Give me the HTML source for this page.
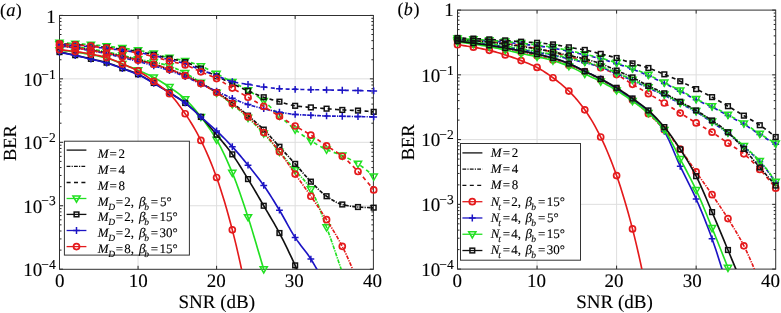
<!DOCTYPE html>
<html><head><meta charset="utf-8"><style>
html,body{margin:0;padding:0;background:#fff;}
body{width:781px;height:313px;overflow:hidden;font-family:"Liberation Serif",serif;}
svg{display:block;will-change:transform;filter:blur(0.3px);}
text{stroke:#000;stroke-width:0.12px;text-rendering:geometricPrecision;}
.tg{will-change:transform;}
</style></head><body>
<svg width="781" height="313" viewBox="0 0 781 313">
<rect width="781" height="313" fill="#fff"/>
<clipPath id="ca"><rect x="59.50" y="15.50" width="313.90" height="253.80"/></clipPath>
<line x1="138.05" y1="15.50" x2="138.05" y2="269.30" stroke="#dedede" stroke-width="1"/>
<line x1="216.60" y1="15.50" x2="216.60" y2="269.30" stroke="#dedede" stroke-width="1"/>
<line x1="295.15" y1="15.50" x2="295.15" y2="269.30" stroke="#dedede" stroke-width="1"/>
<line x1="59.50" y1="78.85" x2="373.40" y2="78.85" stroke="#dedede" stroke-width="1"/>
<line x1="59.50" y1="142.30" x2="373.40" y2="142.30" stroke="#dedede" stroke-width="1"/>
<line x1="59.50" y1="205.75" x2="373.40" y2="205.75" stroke="#dedede" stroke-width="1"/>
<path d="M138.05,269.30 v-3.5 M138.05,15.50 v3.5 M216.60,269.30 v-3.5 M216.60,15.50 v3.5 M295.15,269.30 v-3.5 M295.15,15.50 v3.5 M59.50,15.40 h3.5 M373.40,15.40 h-3.5 M59.50,59.75 h2 M373.40,59.75 h-2 M59.50,48.58 h2 M373.40,48.58 h-2 M59.50,40.65 h2 M373.40,40.65 h-2 M59.50,34.50 h2 M373.40,34.50 h-2 M59.50,29.48 h2 M373.40,29.48 h-2 M59.50,25.23 h2 M373.40,25.23 h-2 M59.50,21.55 h2 M373.40,21.55 h-2 M59.50,18.30 h2 M373.40,18.30 h-2 M59.50,78.85 h3.5 M373.40,78.85 h-3.5 M59.50,123.20 h2 M373.40,123.20 h-2 M59.50,112.03 h2 M373.40,112.03 h-2 M59.50,104.10 h2 M373.40,104.10 h-2 M59.50,97.95 h2 M373.40,97.95 h-2 M59.50,92.93 h2 M373.40,92.93 h-2 M59.50,88.68 h2 M373.40,88.68 h-2 M59.50,85.00 h2 M373.40,85.00 h-2 M59.50,81.75 h2 M373.40,81.75 h-2 M59.50,142.30 h3.5 M373.40,142.30 h-3.5 M59.50,186.65 h2 M373.40,186.65 h-2 M59.50,175.48 h2 M373.40,175.48 h-2 M59.50,167.55 h2 M373.40,167.55 h-2 M59.50,161.40 h2 M373.40,161.40 h-2 M59.50,156.38 h2 M373.40,156.38 h-2 M59.50,152.13 h2 M373.40,152.13 h-2 M59.50,148.45 h2 M373.40,148.45 h-2 M59.50,145.20 h2 M373.40,145.20 h-2 M59.50,205.75 h3.5 M373.40,205.75 h-3.5 M59.50,250.10 h2 M373.40,250.10 h-2 M59.50,238.93 h2 M373.40,238.93 h-2 M59.50,231.00 h2 M373.40,231.00 h-2 M59.50,224.85 h2 M373.40,224.85 h-2 M59.50,219.83 h2 M373.40,219.83 h-2 M59.50,215.58 h2 M373.40,215.58 h-2 M59.50,211.90 h2 M373.40,211.90 h-2 M59.50,208.65 h2 M373.40,208.65 h-2 M59.50,269.20 h3.5 M373.40,269.20 h-3.5" stroke="#262626" stroke-width="1" fill="none"/>
<rect x="59.50" y="15.50" width="313.90" height="253.80" fill="none" stroke="#303030" stroke-width="1"/>
<g clip-path="url(#ca)">
<path d="M59.50,50.17 L61.46,50.37 L63.43,50.59 L65.39,50.81 L67.36,51.05 L69.32,51.29 L71.28,51.55 L73.25,51.81 L75.21,52.07 L77.17,52.35 L79.14,52.64 L81.10,52.94 L83.06,53.25 L85.03,53.57 L86.99,53.90 L88.96,54.25 L90.92,54.61 L92.88,54.98 L94.85,55.37 L96.81,55.76 L98.78,56.18 L100.74,56.62 L102.70,57.08 L104.67,57.57 L106.63,58.10 L108.59,58.69 L110.56,59.34 L112.52,60.05 L114.48,60.81 L116.45,61.59 L118.41,62.38 L120.38,63.17 L122.34,63.94 L124.30,64.70 L126.27,65.47 L128.23,66.25 L130.19,67.03 L132.16,67.82 L134.12,68.63 L136.09,69.45 L138.05,70.28 L140.01,71.12 L141.98,71.97 L143.94,72.82 L145.91,73.68 L147.87,74.57 L149.83,75.49 L151.80,76.45 L153.76,77.45 L155.72,78.51 L157.69,79.62 L159.65,80.77 L161.62,81.96 L163.58,83.20 L165.54,84.47 L167.51,85.77 L169.47,87.10 L171.43,88.45 L173.40,89.82 L175.36,91.22 L177.32,92.67 L179.29,94.18 L181.25,95.75 L183.22,97.41 L185.18,99.15 L187.14,101.02 L189.11,103.01 L191.07,105.12 L193.03,107.33 L195.00,109.63 L196.96,112.01 L198.93,114.44 L200.89,116.92 L202.85,119.45 L204.82,122.03 L206.78,124.70 L208.75,127.46 L210.71,130.34 L212.67,133.33 L214.64,136.47 L216.60,139.76 L218.56,143.25 L220.53,146.94 L222.49,150.83 L224.46,154.90 L226.42,159.14 L228.38,163.54 L230.35,168.08 L232.31,172.76 L234.27,177.63 L236.24,182.77 L238.20,188.14 L240.17,193.71 L242.13,199.43 L244.09,205.27 L246.06,211.19 L248.02,217.17 L249.98,223.29 L251.95,229.63 L253.91,236.14 L255.88,242.76 L257.84,249.43 L259.80,256.10 L261.77,262.71 L263.73,269.20 L265.69,275.59 L267.66,281.95 L269.62,288.28" fill="none" stroke="#22e022" stroke-width="1.65" stroke-linejoin="round"/>
</g>
<path d="M55.90,47.67 L63.10,47.67 L59.50,53.87Z" fill="none" stroke="#22e022" stroke-width="1.50"/>
<path d="M71.61,49.57 L78.81,49.57 L75.21,55.77Z" fill="none" stroke="#22e022" stroke-width="1.50"/>
<path d="M87.32,52.11 L94.52,52.11 L90.92,58.31Z" fill="none" stroke="#22e022" stroke-width="1.50"/>
<path d="M103.03,55.60 L110.23,55.60 L106.63,61.80Z" fill="none" stroke="#22e022" stroke-width="1.50"/>
<path d="M118.74,61.44 L125.94,61.44 L122.34,67.64Z" fill="none" stroke="#22e022" stroke-width="1.50"/>
<path d="M134.45,67.78 L141.65,67.78 L138.05,73.98Z" fill="none" stroke="#22e022" stroke-width="1.50"/>
<path d="M150.16,74.95 L157.36,74.95 L153.76,81.15Z" fill="none" stroke="#22e022" stroke-width="1.50"/>
<path d="M165.87,84.60 L173.07,84.60 L169.47,90.80Z" fill="none" stroke="#22e022" stroke-width="1.50"/>
<path d="M181.58,96.65 L188.78,96.65 L185.18,102.85Z" fill="none" stroke="#22e022" stroke-width="1.50"/>
<path d="M197.29,114.42 L204.49,114.42 L200.89,120.62Z" fill="none" stroke="#22e022" stroke-width="1.50"/>
<path d="M213.00,137.26 L220.20,137.26 L216.60,143.46Z" fill="none" stroke="#22e022" stroke-width="1.50"/>
<path d="M228.71,170.26 L235.91,170.26 L232.31,176.46Z" fill="none" stroke="#22e022" stroke-width="1.50"/>
<path d="M244.42,214.67 L251.62,214.67 L248.02,220.87Z" fill="none" stroke="#22e022" stroke-width="1.50"/>
<path d="M260.13,266.70 L267.33,266.70 L263.73,272.90Z" fill="none" stroke="#22e022" stroke-width="1.50"/>
<g clip-path="url(#ca)">
<path d="M59.50,44.27 L61.46,44.53 L63.43,44.80 L65.39,45.07 L67.36,45.34 L69.32,45.62 L71.28,45.91 L73.25,46.20 L75.21,46.49 L77.17,46.79 L79.14,47.09 L81.10,47.40 L83.06,47.72 L85.03,48.04 L86.99,48.37 L88.96,48.69 L90.92,49.03 L92.88,49.37 L94.85,49.71 L96.81,50.05 L98.78,50.40 L100.74,50.76 L102.70,51.12 L104.67,51.50 L106.63,51.88 L108.59,52.28 L110.56,52.70 L112.52,53.13 L114.48,53.57 L116.45,54.01 L118.41,54.46 L120.38,54.92 L122.34,55.37 L124.30,55.84 L126.27,56.33 L128.23,56.82 L130.19,57.32 L132.16,57.82 L134.12,58.30 L136.09,58.75 L138.05,59.18 L140.01,59.57 L141.98,59.93 L143.94,60.27 L145.91,60.59 L147.87,60.92 L149.83,61.27 L151.80,61.63 L153.76,62.04 L155.72,62.47 L157.69,62.91 L159.65,63.38 L161.62,63.88 L163.58,64.40 L165.54,64.95 L167.51,65.54 L169.47,66.16 L171.43,66.84 L173.40,67.58 L175.36,68.38 L177.32,69.23 L179.29,70.12 L181.25,71.06 L183.22,72.02 L185.18,73.01 L187.14,74.06 L189.11,75.18 L191.07,76.37 L193.03,77.60 L195.00,78.86 L196.96,80.13 L198.93,81.41 L200.89,82.66 L202.85,83.89 L204.82,85.13 L206.78,86.37 L208.75,87.63 L210.71,88.89 L212.67,90.17 L214.64,91.48 L216.60,92.81 L218.56,94.16 L220.53,95.52 L222.49,96.90 L224.46,98.31 L226.42,99.74 L228.38,101.20 L230.35,102.70 L232.31,104.23 L234.27,105.81 L236.24,107.43 L238.20,109.09 L240.17,110.79 L242.13,112.52 L244.09,114.28 L246.06,116.06 L248.02,117.87 L249.98,119.70 L251.95,121.55 L253.91,123.44 L255.88,125.35 L257.84,127.31 L259.80,129.30 L261.77,131.33 L263.73,133.42 L265.69,135.57 L267.66,137.80 L269.62,140.09 L271.59,142.42 L273.55,144.78 L275.51,147.14 L277.48,149.50 L279.44,151.82 L281.40,154.11 L283.37,156.40 L285.33,158.69 L287.30,160.98 L289.26,163.27 L291.22,165.57 L293.19,167.89 L295.15,170.22 L297.11,172.48 L299.08,174.63 L301.04,176.75 L303.00,178.90 L304.97,181.16 L306.93,183.59 L308.90,186.26 L310.86,189.25 L312.82,192.75 L314.79,196.84 L316.75,201.39 L318.72,206.30 L320.68,211.46 L322.64,216.76 L324.61,222.08 L326.57,227.32 L328.53,232.60 L330.50,238.07 L332.46,243.69 L334.43,249.42 L336.39,255.20 L338.35,260.98 L340.32,266.72 L342.28,272.37 L344.24,277.95 L346.21,283.51 L348.17,289.05" fill="none" stroke="#22e022" stroke-width="1.65" stroke-dasharray="3.8,1.2,1.2,1.2" stroke-dashoffset="0.0" stroke-linejoin="round"/>
</g>
<path d="M55.90,41.77 L63.10,41.77 L59.50,47.97Z" fill="none" stroke="#22e022" stroke-width="1.50"/>
<path d="M71.61,43.99 L78.81,43.99 L75.21,50.19Z" fill="none" stroke="#22e022" stroke-width="1.50"/>
<path d="M87.32,46.53 L94.52,46.53 L90.92,52.73Z" fill="none" stroke="#22e022" stroke-width="1.50"/>
<path d="M103.03,49.38 L110.23,49.38 L106.63,55.58Z" fill="none" stroke="#22e022" stroke-width="1.50"/>
<path d="M118.74,52.87 L125.94,52.87 L122.34,59.07Z" fill="none" stroke="#22e022" stroke-width="1.50"/>
<path d="M134.45,56.68 L141.65,56.68 L138.05,62.88Z" fill="none" stroke="#22e022" stroke-width="1.50"/>
<path d="M150.16,59.54 L157.36,59.54 L153.76,65.74Z" fill="none" stroke="#22e022" stroke-width="1.50"/>
<path d="M165.87,63.66 L173.07,63.66 L169.47,69.86Z" fill="none" stroke="#22e022" stroke-width="1.50"/>
<path d="M181.58,70.51 L188.78,70.51 L185.18,76.71Z" fill="none" stroke="#22e022" stroke-width="1.50"/>
<path d="M197.29,80.16 L204.49,80.16 L200.89,86.36Z" fill="none" stroke="#22e022" stroke-width="1.50"/>
<path d="M213.00,90.31 L220.20,90.31 L216.60,96.51Z" fill="none" stroke="#22e022" stroke-width="1.50"/>
<path d="M228.71,101.73 L235.91,101.73 L232.31,107.93Z" fill="none" stroke="#22e022" stroke-width="1.50"/>
<path d="M244.42,115.37 L251.62,115.37 L248.02,121.57Z" fill="none" stroke="#22e022" stroke-width="1.50"/>
<path d="M260.13,130.92 L267.33,130.92 L263.73,137.12Z" fill="none" stroke="#22e022" stroke-width="1.50"/>
<path d="M275.84,149.32 L283.04,149.32 L279.44,155.52Z" fill="none" stroke="#22e022" stroke-width="1.50"/>
<path d="M291.55,167.72 L298.75,167.72 L295.15,173.92Z" fill="none" stroke="#22e022" stroke-width="1.50"/>
<path d="M307.26,186.75 L314.46,186.75 L310.86,192.95Z" fill="none" stroke="#22e022" stroke-width="1.50"/>
<path d="M322.97,224.82 L330.17,224.82 L326.57,231.02Z" fill="none" stroke="#22e022" stroke-width="1.50"/>
<g clip-path="url(#ca)">
<path d="M59.50,42.68 L61.46,42.80 L63.43,42.91 L65.39,43.03 L67.36,43.14 L69.32,43.26 L71.28,43.39 L73.25,43.51 L75.21,43.64 L77.17,43.76 L79.14,43.89 L81.10,44.02 L83.06,44.15 L85.03,44.28 L86.99,44.42 L88.96,44.56 L90.92,44.71 L92.88,44.87 L94.85,45.04 L96.81,45.21 L98.78,45.39 L100.74,45.58 L102.70,45.77 L104.67,45.97 L106.63,46.17 L108.59,46.39 L110.56,46.61 L112.52,46.84 L114.48,47.08 L116.45,47.32 L118.41,47.57 L120.38,47.82 L122.34,48.08 L124.30,48.33 L126.27,48.59 L128.23,48.85 L130.19,49.12 L132.16,49.39 L134.12,49.68 L136.09,49.98 L138.05,50.30 L140.01,50.63 L141.98,50.99 L143.94,51.36 L145.91,51.75 L147.87,52.16 L149.83,52.58 L151.80,53.02 L153.76,53.47 L155.72,53.96 L157.69,54.49 L159.65,55.05 L161.62,55.63 L163.58,56.21 L165.54,56.77 L167.51,57.30 L169.47,57.78 L171.43,58.21 L173.40,58.60 L175.36,58.95 L177.32,59.30 L179.29,59.65 L181.25,60.03 L183.22,60.44 L185.18,60.89 L187.14,61.41 L189.11,61.97 L191.07,62.59 L193.03,63.24 L195.00,63.93 L196.96,64.64 L198.93,65.39 L200.89,66.16 L202.85,66.97 L204.82,67.85 L206.78,68.79 L208.75,69.76 L210.71,70.75 L212.67,71.76 L214.64,72.77 L216.60,73.77 L218.56,74.77 L220.53,75.79 L222.49,76.82 L224.46,77.86 L226.42,78.90 L228.38,79.94 L230.35,80.99 L232.31,82.02 L234.27,83.04 L236.24,84.03 L238.20,85.02 L240.17,86.01 L242.13,87.02 L244.09,88.05 L246.06,89.13 L248.02,90.27 L249.98,91.46 L251.95,92.69 L253.91,93.96 L255.88,95.28 L257.84,96.65 L259.80,98.07 L261.77,99.53 L263.73,101.06 L265.69,102.68 L267.66,104.41 L269.62,106.24 L271.59,108.12 L273.55,110.03 L275.51,111.95 L277.48,113.83 L279.44,115.65 L281.40,117.45 L283.37,119.26 L285.33,121.07 L287.30,122.87 L289.26,124.64 L291.22,126.36 L293.19,128.02 L295.15,129.61 L297.11,131.14 L299.08,132.62 L301.04,134.07 L303.00,135.47 L304.97,136.84 L306.93,138.17 L308.90,139.46 L310.86,140.71 L312.82,141.94 L314.79,143.15 L316.75,144.34 L318.72,145.49 L320.68,146.60 L322.64,147.66 L324.61,148.66 L326.57,149.60 L328.53,150.45 L330.50,151.22 L332.46,151.94 L334.43,152.64 L336.39,153.33 L338.35,154.04 L340.32,154.80 L342.28,155.62 L344.24,156.51 L346.21,157.42 L348.17,158.38 L350.13,159.37 L352.10,160.41 L354.06,161.50 L356.03,162.66 L357.99,163.87 L359.95,165.17 L361.92,166.56 L363.88,168.04 L365.85,169.60 L367.81,171.24 L369.77,172.95 L371.74,174.73 L373.70,176.56" fill="none" stroke="#22e022" stroke-width="1.65" stroke-dasharray="4,3.4" stroke-dashoffset="0.0" stroke-linejoin="round"/>
</g>
<path d="M55.90,40.18 L63.10,40.18 L59.50,46.38Z" fill="none" stroke="#22e022" stroke-width="1.50"/>
<path d="M71.61,41.14 L78.81,41.14 L75.21,47.34Z" fill="none" stroke="#22e022" stroke-width="1.50"/>
<path d="M87.32,42.21 L94.52,42.21 L90.92,48.41Z" fill="none" stroke="#22e022" stroke-width="1.50"/>
<path d="M103.03,43.67 L110.23,43.67 L106.63,49.87Z" fill="none" stroke="#22e022" stroke-width="1.50"/>
<path d="M118.74,45.58 L125.94,45.58 L122.34,51.78Z" fill="none" stroke="#22e022" stroke-width="1.50"/>
<path d="M134.45,47.80 L141.65,47.80 L138.05,54.00Z" fill="none" stroke="#22e022" stroke-width="1.50"/>
<path d="M150.16,50.97 L157.36,50.97 L153.76,57.17Z" fill="none" stroke="#22e022" stroke-width="1.50"/>
<path d="M165.87,55.28 L173.07,55.28 L169.47,61.48Z" fill="none" stroke="#22e022" stroke-width="1.50"/>
<path d="M181.58,58.39 L188.78,58.39 L185.18,64.59Z" fill="none" stroke="#22e022" stroke-width="1.50"/>
<path d="M197.29,63.66 L204.49,63.66 L200.89,69.86Z" fill="none" stroke="#22e022" stroke-width="1.50"/>
<path d="M213.00,71.27 L220.20,71.27 L216.60,77.47Z" fill="none" stroke="#22e022" stroke-width="1.50"/>
<path d="M228.71,79.52 L235.91,79.52 L232.31,85.72Z" fill="none" stroke="#22e022" stroke-width="1.50"/>
<path d="M244.42,87.77 L251.62,87.77 L248.02,93.97Z" fill="none" stroke="#22e022" stroke-width="1.50"/>
<path d="M260.13,98.56 L267.33,98.56 L263.73,104.76Z" fill="none" stroke="#22e022" stroke-width="1.50"/>
<path d="M275.84,113.15 L283.04,113.15 L279.44,119.35Z" fill="none" stroke="#22e022" stroke-width="1.50"/>
<path d="M291.55,127.11 L298.75,127.11 L295.15,133.31Z" fill="none" stroke="#22e022" stroke-width="1.50"/>
<path d="M307.26,138.21 L314.46,138.21 L310.86,144.41Z" fill="none" stroke="#22e022" stroke-width="1.50"/>
<path d="M322.97,147.10 L330.17,147.10 L326.57,153.30Z" fill="none" stroke="#22e022" stroke-width="1.50"/>
<path d="M338.68,153.12 L345.88,153.12 L342.28,159.32Z" fill="none" stroke="#22e022" stroke-width="1.50"/>
<path d="M354.39,161.37 L361.59,161.37 L357.99,167.57Z" fill="none" stroke="#22e022" stroke-width="1.50"/>
<path d="M370.10,174.06 L377.30,174.06 L373.70,180.26Z" fill="none" stroke="#22e022" stroke-width="1.50"/>
<g clip-path="url(#ca)">
<path d="M59.50,52.07 L61.46,52.43 L63.43,52.80 L65.39,53.18 L67.36,53.56 L69.32,53.95 L71.28,54.36 L73.25,54.77 L75.21,55.18 L77.17,55.61 L79.14,56.06 L81.10,56.51 L83.06,56.98 L85.03,57.45 L86.99,57.92 L88.96,58.39 L90.92,58.86 L92.88,59.32 L94.85,59.77 L96.81,60.22 L98.78,60.67 L100.74,61.13 L102.70,61.61 L104.67,62.12 L106.63,62.67 L108.59,63.26 L110.56,63.91 L112.52,64.59 L114.48,65.30 L116.45,66.04 L118.41,66.78 L120.38,67.52 L122.34,68.25 L124.30,68.97 L126.27,69.68 L128.23,70.38 L130.19,71.10 L132.16,71.84 L134.12,72.61 L136.09,73.42 L138.05,74.28 L140.01,75.21 L141.98,76.22 L143.94,77.28 L145.91,78.38 L147.87,79.52 L149.83,80.67 L151.80,81.83 L153.76,82.97 L155.72,84.12 L157.69,85.27 L159.65,86.44 L161.62,87.62 L163.58,88.82 L165.54,90.03 L167.51,91.25 L169.47,92.49 L171.43,93.73 L173.40,94.97 L175.36,96.21 L177.32,97.48 L179.29,98.77 L181.25,100.11 L183.22,101.50 L185.18,102.96 L187.14,104.49 L189.11,106.09 L191.07,107.76 L193.03,109.48 L195.00,111.26 L196.96,113.10 L198.93,114.99 L200.89,116.92 L202.85,118.92 L204.82,121.02 L206.78,123.19 L208.75,125.42 L210.71,127.70 L212.67,130.02 L214.64,132.35 L216.60,134.69 L218.56,137.02 L220.53,139.36 L222.49,141.72 L224.46,144.11 L226.42,146.56 L228.38,149.08 L230.35,151.67 L232.31,154.36 L234.27,157.17 L236.24,160.10 L238.20,163.14 L240.17,166.26 L242.13,169.44 L244.09,172.65 L246.06,175.88 L248.02,179.10 L249.98,182.33 L251.95,185.61 L253.91,188.92 L255.88,192.26 L257.84,195.62 L259.80,199.00 L261.77,202.38 L263.73,205.75 L265.69,209.10 L267.66,212.42 L269.62,215.73 L271.59,219.06 L273.55,222.43 L275.51,225.87 L277.48,229.40 L279.44,233.03 L281.40,236.79 L283.37,240.67 L285.33,244.63 L287.30,248.68 L289.26,252.79 L291.22,256.96 L293.19,261.17 L295.15,265.39 L297.11,269.65 L299.08,273.97 L301.04,278.33 L303.00,282.75 L304.97,287.22 L306.93,291.74" fill="none" stroke="#111111" stroke-width="1.65" stroke-linejoin="round"/>
</g>
<rect x="57.15" y="49.72" width="4.7" height="4.7" fill="none" stroke="#111111" stroke-width="1.50"/>
<rect x="72.86" y="52.83" width="4.7" height="4.7" fill="none" stroke="#111111" stroke-width="1.50"/>
<rect x="88.57" y="56.51" width="4.7" height="4.7" fill="none" stroke="#111111" stroke-width="1.50"/>
<rect x="104.28" y="60.32" width="4.7" height="4.7" fill="none" stroke="#111111" stroke-width="1.50"/>
<rect x="119.99" y="65.90" width="4.7" height="4.7" fill="none" stroke="#111111" stroke-width="1.50"/>
<rect x="135.70" y="71.93" width="4.7" height="4.7" fill="none" stroke="#111111" stroke-width="1.50"/>
<rect x="151.41" y="80.62" width="4.7" height="4.7" fill="none" stroke="#111111" stroke-width="1.50"/>
<rect x="167.12" y="90.14" width="4.7" height="4.7" fill="none" stroke="#111111" stroke-width="1.50"/>
<rect x="182.83" y="100.61" width="4.7" height="4.7" fill="none" stroke="#111111" stroke-width="1.50"/>
<rect x="198.54" y="114.57" width="4.7" height="4.7" fill="none" stroke="#111111" stroke-width="1.50"/>
<rect x="214.25" y="132.34" width="4.7" height="4.7" fill="none" stroke="#111111" stroke-width="1.50"/>
<rect x="229.96" y="152.01" width="4.7" height="4.7" fill="none" stroke="#111111" stroke-width="1.50"/>
<rect x="245.67" y="176.75" width="4.7" height="4.7" fill="none" stroke="#111111" stroke-width="1.50"/>
<rect x="261.38" y="203.40" width="4.7" height="4.7" fill="none" stroke="#111111" stroke-width="1.50"/>
<rect x="277.09" y="230.68" width="4.7" height="4.7" fill="none" stroke="#111111" stroke-width="1.50"/>
<rect x="292.80" y="263.04" width="4.7" height="4.7" fill="none" stroke="#111111" stroke-width="1.50"/>
<g clip-path="url(#ca)">
<path d="M59.50,45.22 L61.46,45.48 L63.43,45.75 L65.39,46.02 L67.36,46.29 L69.32,46.57 L71.28,46.86 L73.25,47.15 L75.21,47.44 L77.17,47.74 L79.14,48.05 L81.10,48.36 L83.06,48.67 L85.03,48.99 L86.99,49.32 L88.96,49.65 L90.92,49.98 L92.88,50.32 L94.85,50.66 L96.81,51.00 L98.78,51.35 L100.74,51.71 L102.70,52.07 L104.67,52.45 L106.63,52.84 L108.59,53.24 L110.56,53.66 L112.52,54.09 L114.48,54.54 L116.45,54.99 L118.41,55.44 L120.38,55.88 L122.34,56.33 L124.30,56.76 L126.27,57.18 L128.23,57.60 L130.19,58.02 L132.16,58.45 L134.12,58.88 L136.09,59.34 L138.05,59.81 L140.01,60.32 L141.98,60.84 L143.94,61.38 L145.91,61.93 L147.87,62.50 L149.83,63.08 L151.80,63.67 L153.76,64.26 L155.72,64.85 L157.69,65.46 L159.65,66.07 L161.62,66.70 L163.58,67.34 L165.54,67.99 L167.51,68.65 L169.47,69.33 L171.43,70.03 L173.40,70.73 L175.36,71.44 L177.32,72.18 L179.29,72.93 L181.25,73.71 L183.22,74.52 L185.18,75.36 L187.14,76.24 L189.11,77.17 L191.07,78.14 L193.03,79.13 L195.00,80.16 L196.96,81.19 L198.93,82.24 L200.89,83.29 L202.85,84.34 L204.82,85.40 L206.78,86.47 L208.75,87.56 L210.71,88.67 L212.67,89.81 L214.64,90.97 L216.60,92.17 L218.56,93.41 L220.53,94.68 L222.49,95.99 L224.46,97.33 L226.42,98.70 L228.38,100.09 L230.35,101.51 L232.31,102.96 L234.27,104.44 L236.24,105.96 L238.20,107.52 L240.17,109.10 L242.13,110.71 L244.09,112.35 L246.06,113.99 L248.02,115.65 L249.98,117.31 L251.95,118.98 L253.91,120.66 L255.88,122.37 L257.84,124.11 L259.80,125.89 L261.77,127.72 L263.73,129.61 L265.69,131.58 L267.66,133.65 L269.62,135.78 L271.59,137.96 L273.55,140.16 L275.51,142.38 L277.48,144.58 L279.44,146.74 L281.40,148.88 L283.37,151.01 L285.33,153.14 L287.30,155.27 L289.26,157.40 L291.22,159.55 L293.19,161.70 L295.15,163.87 L297.11,166.09 L299.08,168.35 L301.04,170.64 L303.00,172.93 L304.97,175.20 L306.93,177.43 L308.90,179.58 L310.86,181.64 L312.82,183.66 L314.79,185.68 L316.75,187.68 L318.72,189.62 L320.68,191.48 L322.64,193.22 L324.61,194.82 L326.57,196.23 L328.53,197.54 L330.50,198.82 L332.46,200.05 L334.43,201.19 L336.39,202.23 L338.35,203.14 L340.32,203.90 L342.28,204.48 L344.24,204.95 L346.21,205.38 L348.17,205.76 L350.13,206.11 L352.10,206.41 L354.06,206.66 L356.03,206.87 L357.99,207.02 L359.95,207.14 L361.92,207.26 L363.88,207.37 L365.85,207.46 L367.81,207.54 L369.77,207.60 L371.74,207.64 L373.70,207.65" fill="none" stroke="#111111" stroke-width="1.65" stroke-dasharray="3.8,1.2,1.2,1.2" stroke-dashoffset="2.6" stroke-linejoin="round"/>
</g>
<rect x="57.15" y="42.87" width="4.7" height="4.7" fill="none" stroke="#111111" stroke-width="1.50"/>
<rect x="72.86" y="45.09" width="4.7" height="4.7" fill="none" stroke="#111111" stroke-width="1.50"/>
<rect x="88.57" y="47.63" width="4.7" height="4.7" fill="none" stroke="#111111" stroke-width="1.50"/>
<rect x="104.28" y="50.49" width="4.7" height="4.7" fill="none" stroke="#111111" stroke-width="1.50"/>
<rect x="119.99" y="53.98" width="4.7" height="4.7" fill="none" stroke="#111111" stroke-width="1.50"/>
<rect x="135.70" y="57.46" width="4.7" height="4.7" fill="none" stroke="#111111" stroke-width="1.50"/>
<rect x="151.41" y="61.91" width="4.7" height="4.7" fill="none" stroke="#111111" stroke-width="1.50"/>
<rect x="167.12" y="66.98" width="4.7" height="4.7" fill="none" stroke="#111111" stroke-width="1.50"/>
<rect x="182.83" y="73.01" width="4.7" height="4.7" fill="none" stroke="#111111" stroke-width="1.50"/>
<rect x="198.54" y="80.94" width="4.7" height="4.7" fill="none" stroke="#111111" stroke-width="1.50"/>
<rect x="214.25" y="89.82" width="4.7" height="4.7" fill="none" stroke="#111111" stroke-width="1.50"/>
<rect x="229.96" y="100.61" width="4.7" height="4.7" fill="none" stroke="#111111" stroke-width="1.50"/>
<rect x="245.67" y="113.30" width="4.7" height="4.7" fill="none" stroke="#111111" stroke-width="1.50"/>
<rect x="261.38" y="127.26" width="4.7" height="4.7" fill="none" stroke="#111111" stroke-width="1.50"/>
<rect x="277.09" y="144.39" width="4.7" height="4.7" fill="none" stroke="#111111" stroke-width="1.50"/>
<rect x="292.80" y="161.52" width="4.7" height="4.7" fill="none" stroke="#111111" stroke-width="1.50"/>
<rect x="308.51" y="179.29" width="4.7" height="4.7" fill="none" stroke="#111111" stroke-width="1.50"/>
<rect x="324.22" y="193.88" width="4.7" height="4.7" fill="none" stroke="#111111" stroke-width="1.50"/>
<rect x="339.93" y="202.13" width="4.7" height="4.7" fill="none" stroke="#111111" stroke-width="1.50"/>
<rect x="355.64" y="204.67" width="4.7" height="4.7" fill="none" stroke="#111111" stroke-width="1.50"/>
<rect x="371.35" y="205.30" width="4.7" height="4.7" fill="none" stroke="#111111" stroke-width="1.50"/>
<g clip-path="url(#ca)">
<path d="M59.50,43.64 L61.46,43.74 L63.43,43.84 L65.39,43.96 L67.36,44.07 L69.32,44.20 L71.28,44.32 L73.25,44.45 L75.21,44.59 L77.17,44.73 L79.14,44.87 L81.10,45.02 L83.06,45.18 L85.03,45.34 L86.99,45.51 L88.96,45.68 L90.92,45.86 L92.88,46.04 L94.85,46.22 L96.81,46.41 L98.78,46.61 L100.74,46.81 L102.70,47.02 L104.67,47.23 L106.63,47.44 L108.59,47.66 L110.56,47.89 L112.52,48.12 L114.48,48.35 L116.45,48.60 L118.41,48.84 L120.38,49.09 L122.34,49.35 L124.30,49.60 L126.27,49.86 L128.23,50.12 L130.19,50.39 L132.16,50.66 L134.12,50.95 L136.09,51.25 L138.05,51.57 L140.01,51.91 L141.98,52.27 L143.94,52.65 L145.91,53.05 L147.87,53.46 L149.83,53.88 L151.80,54.31 L153.76,54.74 L155.72,55.18 L157.69,55.65 L159.65,56.13 L161.62,56.62 L163.58,57.11 L165.54,57.60 L167.51,58.08 L169.47,58.55 L171.43,58.98 L173.40,59.39 L175.36,59.78 L177.32,60.18 L179.29,60.59 L181.25,61.02 L183.22,61.50 L185.18,62.04 L187.14,62.66 L189.11,63.36 L191.07,64.15 L193.03,64.99 L195.00,65.87 L196.96,66.77 L198.93,67.67 L200.89,68.57 L202.85,69.48 L204.82,70.43 L206.78,71.40 L208.75,72.39 L210.71,73.39 L212.67,74.38 L214.64,75.36 L216.60,76.31 L218.56,77.24 L220.53,78.17 L222.49,79.08 L224.46,79.99 L226.42,80.89 L228.38,81.79 L230.35,82.70 L232.31,83.61 L234.27,84.53 L236.24,85.46 L238.20,86.39 L240.17,87.32 L242.13,88.24 L244.09,89.15 L246.06,90.04 L248.02,90.91 L249.98,91.76 L251.95,92.61 L253.91,93.45 L255.88,94.27 L257.84,95.07 L259.80,95.84 L261.77,96.57 L263.73,97.25 L265.69,97.88 L267.66,98.48 L269.62,99.05 L271.59,99.59 L273.55,100.12 L275.51,100.64 L277.48,101.16 L279.44,101.69 L281.40,102.25 L283.37,102.83 L285.33,103.42 L287.30,104.00 L289.26,104.55 L291.22,105.05 L293.19,105.48 L295.15,105.82 L297.11,106.08 L299.08,106.32 L301.04,106.53 L303.00,106.72 L304.97,106.90 L306.93,107.06 L308.90,107.23 L310.86,107.40 L312.82,107.57 L314.79,107.74 L316.75,107.90 L318.72,108.05 L320.68,108.21 L322.64,108.36 L324.61,108.51 L326.57,108.67 L328.53,108.84 L330.50,109.01 L332.46,109.18 L334.43,109.36 L336.39,109.53 L338.35,109.68 L340.32,109.82 L342.28,109.94 L344.24,110.04 L346.21,110.12 L348.17,110.19 L350.13,110.26 L352.10,110.32 L354.06,110.40 L356.03,110.48 L357.99,110.58 L359.95,110.69 L361.92,110.82 L363.88,110.96 L365.85,111.12 L367.81,111.28 L369.77,111.46 L371.74,111.65 L373.70,111.84" fill="none" stroke="#111111" stroke-width="1.65" stroke-dasharray="4,3.4" stroke-dashoffset="2.6" stroke-linejoin="round"/>
</g>
<rect x="57.15" y="41.29" width="4.7" height="4.7" fill="none" stroke="#111111" stroke-width="1.50"/>
<rect x="72.86" y="42.24" width="4.7" height="4.7" fill="none" stroke="#111111" stroke-width="1.50"/>
<rect x="88.57" y="43.51" width="4.7" height="4.7" fill="none" stroke="#111111" stroke-width="1.50"/>
<rect x="104.28" y="45.09" width="4.7" height="4.7" fill="none" stroke="#111111" stroke-width="1.50"/>
<rect x="119.99" y="47.00" width="4.7" height="4.7" fill="none" stroke="#111111" stroke-width="1.50"/>
<rect x="135.70" y="49.22" width="4.7" height="4.7" fill="none" stroke="#111111" stroke-width="1.50"/>
<rect x="151.41" y="52.39" width="4.7" height="4.7" fill="none" stroke="#111111" stroke-width="1.50"/>
<rect x="167.12" y="56.20" width="4.7" height="4.7" fill="none" stroke="#111111" stroke-width="1.50"/>
<rect x="182.83" y="59.69" width="4.7" height="4.7" fill="none" stroke="#111111" stroke-width="1.50"/>
<rect x="198.54" y="66.22" width="4.7" height="4.7" fill="none" stroke="#111111" stroke-width="1.50"/>
<rect x="214.25" y="73.96" width="4.7" height="4.7" fill="none" stroke="#111111" stroke-width="1.50"/>
<rect x="229.96" y="81.26" width="4.7" height="4.7" fill="none" stroke="#111111" stroke-width="1.50"/>
<rect x="245.67" y="88.56" width="4.7" height="4.7" fill="none" stroke="#111111" stroke-width="1.50"/>
<rect x="261.38" y="94.90" width="4.7" height="4.7" fill="none" stroke="#111111" stroke-width="1.50"/>
<rect x="277.09" y="99.34" width="4.7" height="4.7" fill="none" stroke="#111111" stroke-width="1.50"/>
<rect x="292.80" y="103.47" width="4.7" height="4.7" fill="none" stroke="#111111" stroke-width="1.50"/>
<rect x="308.51" y="105.05" width="4.7" height="4.7" fill="none" stroke="#111111" stroke-width="1.50"/>
<rect x="324.22" y="106.32" width="4.7" height="4.7" fill="none" stroke="#111111" stroke-width="1.50"/>
<rect x="339.93" y="107.59" width="4.7" height="4.7" fill="none" stroke="#111111" stroke-width="1.50"/>
<rect x="355.64" y="108.23" width="4.7" height="4.7" fill="none" stroke="#111111" stroke-width="1.50"/>
<rect x="371.35" y="109.49" width="4.7" height="4.7" fill="none" stroke="#111111" stroke-width="1.50"/>
<g clip-path="url(#ca)">
<path d="M59.50,52.39 L61.46,52.75 L63.43,53.12 L65.39,53.49 L67.36,53.88 L69.32,54.27 L71.28,54.67 L73.25,55.08 L75.21,55.50 L77.17,55.93 L79.14,56.37 L81.10,56.83 L83.06,57.29 L85.03,57.76 L86.99,58.24 L88.96,58.71 L90.92,59.18 L92.88,59.64 L94.85,60.09 L96.81,60.54 L98.78,60.99 L100.74,61.45 L102.70,61.93 L104.67,62.44 L106.63,62.99 L108.59,63.58 L110.56,64.22 L112.52,64.91 L114.48,65.62 L116.45,66.35 L118.41,67.10 L120.38,67.84 L122.34,68.57 L124.30,69.29 L126.27,69.99 L128.23,70.70 L130.19,71.42 L132.16,72.16 L134.12,72.93 L136.09,73.74 L138.05,74.60 L140.01,75.53 L141.98,76.53 L143.94,77.59 L145.91,78.70 L147.87,79.84 L149.83,80.99 L151.80,82.15 L153.76,83.29 L155.72,84.44 L157.69,85.60 L159.65,86.77 L161.62,87.96 L163.58,89.16 L165.54,90.37 L167.51,91.58 L169.47,92.81 L171.43,94.02 L173.40,95.23 L175.36,96.43 L177.32,97.64 L179.29,98.89 L181.25,100.18 L183.22,101.53 L185.18,102.96 L187.14,104.49 L189.11,106.14 L191.07,107.87 L193.03,109.66 L195.00,111.49 L196.96,113.33 L198.93,115.14 L200.89,116.92 L202.85,118.65 L204.82,120.37 L206.78,122.08 L208.75,123.79 L210.71,125.51 L212.67,127.26 L214.64,129.05 L216.60,130.88 L218.56,132.75 L220.53,134.65 L222.49,136.58 L224.46,138.54 L226.42,140.53 L228.38,142.56 L230.35,144.63 L232.31,146.74 L234.27,148.90 L236.24,151.11 L238.20,153.36 L240.17,155.66 L242.13,157.99 L244.09,160.35 L246.06,162.74 L248.02,165.14 L249.98,167.56 L251.95,169.98 L253.91,172.43 L255.88,174.92 L257.84,177.45 L259.80,180.04 L261.77,182.70 L263.73,185.45 L265.69,188.29 L267.66,191.23 L269.62,194.26 L271.59,197.36 L273.55,200.52 L275.51,203.72 L277.48,206.95 L279.44,210.19 L281.40,213.52 L283.37,216.97 L285.33,220.51 L287.30,224.07 L289.26,227.59 L291.22,231.04 L293.19,234.35 L295.15,237.48 L297.11,240.37 L299.08,243.07 L301.04,245.65 L303.00,248.17 L304.97,250.71 L306.93,253.32 L308.90,256.08 L310.86,259.05 L312.82,262.23 L314.79,265.55 L316.75,269.02 L318.72,272.62 L320.68,276.35 L322.64,280.20 L324.61,284.16 L326.57,288.23" fill="none" stroke="#1c14c4" stroke-width="1.65" stroke-linejoin="round"/>
</g>
<path d="M56.10,52.39 H62.90 M59.50,48.99 V55.79" stroke="#1c14c4" stroke-width="1.50"/>
<path d="M71.81,55.50 H78.61 M75.21,52.10 V58.90" stroke="#1c14c4" stroke-width="1.50"/>
<path d="M87.52,59.18 H94.32 M90.92,55.78 V62.58" stroke="#1c14c4" stroke-width="1.50"/>
<path d="M103.23,62.99 H110.03 M106.63,59.59 V66.39" stroke="#1c14c4" stroke-width="1.50"/>
<path d="M118.94,68.57 H125.74 M122.34,65.17 V71.97" stroke="#1c14c4" stroke-width="1.50"/>
<path d="M134.65,74.60 H141.45 M138.05,71.20 V78.00" stroke="#1c14c4" stroke-width="1.50"/>
<path d="M150.36,83.29 H157.16 M153.76,79.89 V86.69" stroke="#1c14c4" stroke-width="1.50"/>
<path d="M166.07,92.81 H172.87 M169.47,89.41 V96.21" stroke="#1c14c4" stroke-width="1.50"/>
<path d="M181.78,102.96 H188.58 M185.18,99.56 V106.36" stroke="#1c14c4" stroke-width="1.50"/>
<path d="M197.49,116.92 H204.29 M200.89,113.52 V120.32" stroke="#1c14c4" stroke-width="1.50"/>
<path d="M213.20,130.88 H220.00 M216.60,127.48 V134.28" stroke="#1c14c4" stroke-width="1.50"/>
<path d="M228.91,146.74 H235.71 M232.31,143.34 V150.14" stroke="#1c14c4" stroke-width="1.50"/>
<path d="M244.62,165.14 H251.42 M248.02,161.74 V168.54" stroke="#1c14c4" stroke-width="1.50"/>
<path d="M260.33,185.45 H267.13 M263.73,182.05 V188.85" stroke="#1c14c4" stroke-width="1.50"/>
<path d="M276.04,210.19 H282.84 M279.44,206.79 V213.59" stroke="#1c14c4" stroke-width="1.50"/>
<path d="M291.75,237.48 H298.55 M295.15,234.08 V240.88" stroke="#1c14c4" stroke-width="1.50"/>
<path d="M307.46,259.05 H314.26 M310.86,255.65 V262.45" stroke="#1c14c4" stroke-width="1.50"/>
<g clip-path="url(#ca)">
<path d="M59.50,45.86 L61.46,46.12 L63.43,46.38 L65.39,46.65 L67.36,46.93 L69.32,47.21 L71.28,47.49 L73.25,47.78 L75.21,48.08 L77.17,48.37 L79.14,48.67 L81.10,48.98 L83.06,49.29 L85.03,49.61 L86.99,49.93 L88.96,50.27 L90.92,50.61 L92.88,50.97 L94.85,51.34 L96.81,51.73 L98.78,52.12 L100.74,52.52 L102.70,52.94 L104.67,53.36 L106.63,53.79 L108.59,54.23 L110.56,54.69 L112.52,55.16 L114.48,55.65 L116.45,56.14 L118.41,56.63 L120.38,57.11 L122.34,57.59 L124.30,58.07 L126.27,58.53 L128.23,59.00 L130.19,59.46 L132.16,59.93 L134.12,60.41 L136.09,60.90 L138.05,61.40 L140.01,61.92 L141.98,62.46 L143.94,63.00 L145.91,63.56 L147.87,64.12 L149.83,64.69 L151.80,65.27 L153.76,65.84 L155.72,66.41 L157.69,66.98 L159.65,67.55 L161.62,68.13 L163.58,68.72 L165.54,69.33 L167.51,69.95 L169.47,70.60 L171.43,71.28 L173.40,71.98 L175.36,72.71 L177.32,73.45 L179.29,74.22 L181.25,75.01 L183.22,75.81 L185.18,76.63 L187.14,77.47 L189.11,78.36 L191.07,79.26 L193.03,80.19 L195.00,81.13 L196.96,82.07 L198.93,83.00 L200.89,83.93 L202.85,84.84 L204.82,85.75 L206.78,86.67 L208.75,87.59 L210.71,88.50 L212.67,89.41 L214.64,90.32 L216.60,91.22 L218.56,92.13 L220.53,93.03 L222.49,93.94 L224.46,94.85 L226.42,95.74 L228.38,96.62 L230.35,97.49 L232.31,98.33 L234.27,99.16 L236.24,100.00 L238.20,100.83 L240.17,101.65 L242.13,102.44 L244.09,103.19 L246.06,103.90 L248.02,104.55 L249.98,105.15 L251.95,105.71 L253.91,106.25 L255.88,106.76 L257.84,107.25 L259.80,107.73 L261.77,108.20 L263.73,108.67 L265.69,109.15 L267.66,109.62 L269.62,110.09 L271.59,110.55 L273.55,110.99 L275.51,111.41 L277.48,111.80 L279.44,112.16 L281.40,112.50 L283.37,112.83 L285.33,113.14 L287.30,113.44 L289.26,113.72 L291.22,113.97 L293.19,114.20 L295.15,114.38 L297.11,114.54 L299.08,114.68 L301.04,114.81 L303.00,114.93 L304.97,115.04 L306.93,115.14 L308.90,115.24 L310.86,115.33 L312.82,115.43 L314.79,115.52 L316.75,115.61 L318.72,115.69 L320.68,115.77 L322.64,115.85 L324.61,115.91 L326.57,115.97 L328.53,116.02 L330.50,116.06 L332.46,116.10 L334.43,116.14 L336.39,116.18 L338.35,116.21 L340.32,116.25 L342.28,116.29 L344.24,116.33 L346.21,116.36 L348.17,116.40 L350.13,116.44 L352.10,116.48 L354.06,116.52 L356.03,116.56 L357.99,116.60 L359.95,116.64 L361.92,116.68 L363.88,116.72 L365.85,116.76 L367.81,116.80 L369.77,116.84 L371.74,116.88 L373.70,116.92" fill="none" stroke="#1c14c4" stroke-width="1.65" stroke-dasharray="3.8,1.2,1.2,1.2" stroke-dashoffset="5.0" stroke-linejoin="round"/>
</g>
<path d="M56.10,45.86 H62.90 M59.50,42.46 V49.26" stroke="#1c14c4" stroke-width="1.50"/>
<path d="M71.81,48.08 H78.61 M75.21,44.68 V51.48" stroke="#1c14c4" stroke-width="1.50"/>
<path d="M87.52,50.61 H94.32 M90.92,47.21 V54.01" stroke="#1c14c4" stroke-width="1.50"/>
<path d="M103.23,53.79 H110.03 M106.63,50.39 V57.19" stroke="#1c14c4" stroke-width="1.50"/>
<path d="M118.94,57.59 H125.74 M122.34,54.19 V60.99" stroke="#1c14c4" stroke-width="1.50"/>
<path d="M134.65,61.40 H141.45 M138.05,58.00 V64.80" stroke="#1c14c4" stroke-width="1.50"/>
<path d="M150.36,65.84 H157.16 M153.76,62.44 V69.24" stroke="#1c14c4" stroke-width="1.50"/>
<path d="M166.07,70.60 H172.87 M169.47,67.20 V74.00" stroke="#1c14c4" stroke-width="1.50"/>
<path d="M181.78,76.63 H188.58 M185.18,73.23 V80.03" stroke="#1c14c4" stroke-width="1.50"/>
<path d="M197.49,83.93 H204.29 M200.89,80.53 V87.33" stroke="#1c14c4" stroke-width="1.50"/>
<path d="M213.20,91.22 H220.00 M216.60,87.82 V94.62" stroke="#1c14c4" stroke-width="1.50"/>
<path d="M228.91,98.33 H235.71 M232.31,94.93 V101.73" stroke="#1c14c4" stroke-width="1.50"/>
<path d="M244.62,104.55 H251.42 M248.02,101.15 V107.95" stroke="#1c14c4" stroke-width="1.50"/>
<path d="M260.33,108.67 H267.13 M263.73,105.27 V112.07" stroke="#1c14c4" stroke-width="1.50"/>
<path d="M276.04,112.16 H282.84 M279.44,108.76 V115.56" stroke="#1c14c4" stroke-width="1.50"/>
<path d="M291.75,114.38 H298.55 M295.15,110.98 V117.78" stroke="#1c14c4" stroke-width="1.50"/>
<path d="M307.46,115.33 H314.26 M310.86,111.93 V118.73" stroke="#1c14c4" stroke-width="1.50"/>
<path d="M323.17,115.97 H329.97 M326.57,112.57 V119.37" stroke="#1c14c4" stroke-width="1.50"/>
<path d="M338.88,116.29 H345.68 M342.28,112.89 V119.69" stroke="#1c14c4" stroke-width="1.50"/>
<path d="M354.59,116.60 H361.39 M357.99,113.20 V120.00" stroke="#1c14c4" stroke-width="1.50"/>
<path d="M370.30,116.92 H377.10 M373.70,113.52 V120.32" stroke="#1c14c4" stroke-width="1.50"/>
<g clip-path="url(#ca)">
<path d="M59.50,44.59 L61.46,44.69 L63.43,44.80 L65.39,44.91 L67.36,45.03 L69.32,45.15 L71.28,45.27 L73.25,45.40 L75.21,45.54 L77.17,45.68 L79.14,45.82 L81.10,45.98 L83.06,46.13 L85.03,46.30 L86.99,46.46 L88.96,46.63 L90.92,46.81 L92.88,46.99 L94.85,47.17 L96.81,47.36 L98.78,47.56 L100.74,47.76 L102.70,47.97 L104.67,48.18 L106.63,48.39 L108.59,48.61 L110.56,48.84 L112.52,49.07 L114.48,49.31 L116.45,49.55 L118.41,49.79 L120.38,50.04 L122.34,50.30 L124.30,50.55 L126.27,50.82 L128.23,51.08 L130.19,51.35 L132.16,51.63 L134.12,51.92 L136.09,52.21 L138.05,52.52 L140.01,52.83 L141.98,53.15 L143.94,53.48 L145.91,53.82 L147.87,54.18 L149.83,54.56 L151.80,54.95 L153.76,55.37 L155.72,55.84 L157.69,56.36 L159.65,56.93 L161.62,57.52 L163.58,58.11 L165.54,58.71 L167.51,59.28 L169.47,59.81 L171.43,60.31 L173.40,60.76 L175.36,61.20 L177.32,61.64 L179.29,62.08 L181.25,62.55 L183.22,63.06 L185.18,63.62 L187.14,64.27 L189.11,65.00 L191.07,65.80 L193.03,66.64 L195.00,67.50 L196.96,68.35 L198.93,69.18 L200.89,69.97 L202.85,70.71 L204.82,71.43 L206.78,72.14 L208.75,72.84 L210.71,73.54 L212.67,74.24 L214.64,74.95 L216.60,75.68 L218.56,76.45 L220.53,77.27 L222.49,78.12 L224.46,78.96 L226.42,79.77 L228.38,80.52 L230.35,81.17 L232.31,81.71 L234.27,82.14 L236.24,82.52 L238.20,82.86 L240.17,83.17 L242.13,83.47 L244.09,83.76 L246.06,84.05 L248.02,84.37 L249.98,84.71 L251.95,85.05 L253.91,85.40 L255.88,85.74 L257.84,86.08 L259.80,86.40 L261.77,86.70 L263.73,86.97 L265.69,87.23 L267.66,87.49 L269.62,87.73 L271.59,87.97 L273.55,88.19 L275.51,88.38 L277.48,88.55 L279.44,88.68 L281.40,88.79 L283.37,88.89 L285.33,88.98 L287.30,89.06 L289.26,89.14 L291.22,89.20 L293.19,89.26 L295.15,89.32 L297.11,89.37 L299.08,89.41 L301.04,89.45 L303.00,89.49 L304.97,89.53 L306.93,89.56 L308.90,89.60 L310.86,89.64 L312.82,89.68 L314.79,89.72 L316.75,89.76 L318.72,89.80 L320.68,89.83 L322.64,89.87 L324.61,89.91 L326.57,89.95 L328.53,89.99 L330.50,90.03 L332.46,90.07 L334.43,90.11 L336.39,90.15 L338.35,90.19 L340.32,90.23 L342.28,90.27 L344.24,90.31 L346.21,90.35 L348.17,90.39 L350.13,90.43 L352.10,90.47 L354.06,90.51 L356.03,90.55 L357.99,90.59 L359.95,90.63 L361.92,90.67 L363.88,90.71 L365.85,90.75 L367.81,90.79 L369.77,90.83 L371.74,90.87 L373.70,90.91" fill="none" stroke="#1c14c4" stroke-width="1.65" stroke-dasharray="4,3.4" stroke-dashoffset="5.0" stroke-linejoin="round"/>
</g>
<path d="M56.10,44.59 H62.90 M59.50,41.19 V47.99" stroke="#1c14c4" stroke-width="1.50"/>
<path d="M71.81,45.54 H78.61 M75.21,42.14 V48.94" stroke="#1c14c4" stroke-width="1.50"/>
<path d="M87.52,46.81 H94.32 M90.92,43.41 V50.21" stroke="#1c14c4" stroke-width="1.50"/>
<path d="M103.23,48.39 H110.03 M106.63,44.99 V51.79" stroke="#1c14c4" stroke-width="1.50"/>
<path d="M118.94,50.30 H125.74 M122.34,46.90 V53.70" stroke="#1c14c4" stroke-width="1.50"/>
<path d="M134.65,52.52 H141.45 M138.05,49.12 V55.92" stroke="#1c14c4" stroke-width="1.50"/>
<path d="M150.36,55.37 H157.16 M153.76,51.97 V58.77" stroke="#1c14c4" stroke-width="1.50"/>
<path d="M166.07,59.81 H172.87 M169.47,56.41 V63.21" stroke="#1c14c4" stroke-width="1.50"/>
<path d="M181.78,63.62 H188.58 M185.18,60.22 V67.02" stroke="#1c14c4" stroke-width="1.50"/>
<path d="M197.49,69.97 H204.29 M200.89,66.57 V73.37" stroke="#1c14c4" stroke-width="1.50"/>
<path d="M213.20,75.68 H220.00 M216.60,72.28 V79.08" stroke="#1c14c4" stroke-width="1.50"/>
<path d="M228.91,81.71 H235.71 M232.31,78.31 V85.11" stroke="#1c14c4" stroke-width="1.50"/>
<path d="M244.62,84.37 H251.42 M248.02,80.97 V87.77" stroke="#1c14c4" stroke-width="1.50"/>
<path d="M260.33,86.97 H267.13 M263.73,83.57 V90.37" stroke="#1c14c4" stroke-width="1.50"/>
<path d="M276.04,88.68 H282.84 M279.44,85.28 V92.08" stroke="#1c14c4" stroke-width="1.50"/>
<path d="M291.75,89.32 H298.55 M295.15,85.92 V92.72" stroke="#1c14c4" stroke-width="1.50"/>
<path d="M307.46,89.64 H314.26 M310.86,86.24 V93.04" stroke="#1c14c4" stroke-width="1.50"/>
<path d="M323.17,89.95 H329.97 M326.57,86.55 V93.35" stroke="#1c14c4" stroke-width="1.50"/>
<path d="M338.88,90.27 H345.68 M342.28,86.87 V93.67" stroke="#1c14c4" stroke-width="1.50"/>
<path d="M354.59,90.59 H361.39 M357.99,87.19 V93.99" stroke="#1c14c4" stroke-width="1.50"/>
<path d="M370.30,90.91 H377.10 M373.70,87.51 V94.31" stroke="#1c14c4" stroke-width="1.50"/>
<g clip-path="url(#ca)">
<path d="M59.50,49.66 L61.46,49.87 L63.43,50.08 L65.39,50.31 L67.36,50.54 L69.32,50.78 L71.28,51.04 L73.25,51.30 L75.21,51.57 L77.17,51.84 L79.14,52.13 L81.10,52.43 L83.06,52.74 L85.03,53.06 L86.99,53.40 L88.96,53.74 L90.92,54.10 L92.88,54.47 L94.85,54.85 L96.81,55.24 L98.78,55.65 L100.74,56.09 L102.70,56.55 L104.67,57.05 L106.63,57.59 L108.59,58.21 L110.56,58.91 L112.52,59.68 L114.48,60.50 L116.45,61.35 L118.41,62.22 L120.38,63.09 L122.34,63.94 L124.30,64.76 L126.27,65.57 L128.23,66.39 L130.19,67.21 L132.16,68.07 L134.12,68.96 L136.09,69.91 L138.05,70.92 L140.01,72.02 L141.98,73.20 L143.94,74.46 L145.91,75.78 L147.87,77.15 L149.83,78.55 L151.80,79.97 L153.76,81.39 L155.72,82.80 L157.69,84.20 L159.65,85.62 L161.62,87.08 L163.58,88.60 L165.54,90.21 L167.51,91.92 L169.47,93.76 L171.43,95.77 L173.40,97.96 L175.36,100.32 L177.32,102.81 L179.29,105.42 L181.25,108.13 L183.22,110.91 L185.18,113.75 L187.14,116.65 L189.11,119.67 L191.07,122.80 L193.03,126.05 L195.00,129.43 L196.96,132.94 L198.93,136.59 L200.89,140.40 L202.85,144.37 L204.82,148.52 L206.78,152.87 L208.75,157.40 L210.71,162.13 L212.67,167.06 L214.64,172.19 L216.60,177.51 L218.56,183.10 L220.53,188.98 L222.49,195.14 L224.46,201.58 L226.42,208.29 L228.38,215.24 L230.35,222.44 L232.31,229.86 L234.27,237.58 L236.24,245.67 L238.20,254.11 L240.17,262.88 L242.13,271.96 L244.09,281.34 L246.06,291.00" fill="none" stroke="#e41a1c" stroke-width="1.65" stroke-linejoin="round"/>
</g>
<circle cx="59.50" cy="49.66" r="3.0" fill="none" stroke="#e41a1c" stroke-width="1.70"/>
<circle cx="75.21" cy="51.57" r="3.0" fill="none" stroke="#e41a1c" stroke-width="1.70"/>
<circle cx="90.92" cy="54.10" r="3.0" fill="none" stroke="#e41a1c" stroke-width="1.70"/>
<circle cx="106.63" cy="57.59" r="3.0" fill="none" stroke="#e41a1c" stroke-width="1.70"/>
<circle cx="122.34" cy="63.94" r="3.0" fill="none" stroke="#e41a1c" stroke-width="1.70"/>
<circle cx="138.05" cy="70.92" r="3.0" fill="none" stroke="#e41a1c" stroke-width="1.70"/>
<circle cx="153.76" cy="81.39" r="3.0" fill="none" stroke="#e41a1c" stroke-width="1.70"/>
<circle cx="169.47" cy="93.76" r="3.0" fill="none" stroke="#e41a1c" stroke-width="1.70"/>
<circle cx="185.18" cy="113.75" r="3.0" fill="none" stroke="#e41a1c" stroke-width="1.70"/>
<circle cx="200.89" cy="140.40" r="3.0" fill="none" stroke="#e41a1c" stroke-width="1.70"/>
<circle cx="216.60" cy="177.51" r="3.0" fill="none" stroke="#e41a1c" stroke-width="1.70"/>
<circle cx="232.31" cy="229.86" r="3.0" fill="none" stroke="#e41a1c" stroke-width="1.70"/>
<g clip-path="url(#ca)">
<path d="M59.50,45.54 L61.46,45.80 L63.43,46.06 L65.39,46.34 L67.36,46.61 L69.32,46.89 L71.28,47.18 L73.25,47.47 L75.21,47.76 L77.17,48.06 L79.14,48.36 L81.10,48.67 L83.06,48.99 L85.03,49.31 L86.99,49.63 L88.96,49.96 L90.92,50.30 L92.88,50.63 L94.85,50.97 L96.81,51.32 L98.78,51.67 L100.74,52.03 L102.70,52.39 L104.67,52.77 L106.63,53.15 L108.59,53.56 L110.56,53.98 L112.52,54.41 L114.48,54.85 L116.45,55.30 L118.41,55.75 L120.38,56.20 L122.34,56.64 L124.30,57.07 L126.27,57.50 L128.23,57.93 L130.19,58.35 L132.16,58.78 L134.12,59.22 L136.09,59.67 L138.05,60.13 L140.01,60.61 L141.98,61.09 L143.94,61.59 L145.91,62.10 L147.87,62.62 L149.83,63.15 L151.80,63.70 L153.76,64.26 L155.72,64.83 L157.69,65.43 L159.65,66.03 L161.62,66.66 L163.58,67.30 L165.54,67.96 L167.51,68.64 L169.47,69.33 L171.43,70.05 L173.40,70.79 L175.36,71.55 L177.32,72.33 L179.29,73.13 L181.25,73.96 L183.22,74.81 L185.18,75.68 L187.14,76.58 L189.11,77.51 L191.07,78.48 L193.03,79.47 L195.00,80.48 L196.96,81.51 L198.93,82.56 L200.89,83.61 L202.85,84.67 L204.82,85.74 L206.78,86.83 L208.75,87.93 L210.71,89.06 L212.67,90.21 L214.64,91.40 L216.60,92.62 L218.56,93.87 L220.53,95.16 L222.49,96.48 L224.46,97.84 L226.42,99.23 L228.38,100.65 L230.35,102.11 L232.31,103.60 L234.27,105.12 L236.24,106.70 L238.20,108.31 L240.17,109.97 L242.13,111.66 L244.09,113.38 L246.06,115.14 L248.02,116.92 L249.98,118.73 L251.95,120.58 L253.91,122.45 L255.88,124.37 L257.84,126.34 L259.80,128.35 L261.77,130.41 L263.73,132.53 L265.69,134.71 L267.66,136.96 L269.62,139.28 L271.59,141.65 L273.55,144.07 L275.51,146.55 L277.48,149.07 L279.44,151.63 L281.40,154.26 L283.37,156.98 L285.33,159.77 L287.30,162.62 L289.26,165.48 L291.22,168.36 L293.19,171.21 L295.15,174.03 L297.11,176.80 L299.08,179.56 L301.04,182.31 L303.00,185.06 L304.97,187.82 L306.93,190.60 L308.90,193.40 L310.86,196.23 L312.82,199.08 L314.79,201.94 L316.75,204.81 L318.72,207.70 L320.68,210.63 L322.64,213.60 L324.61,216.62 L326.57,219.71 L328.53,222.83 L330.50,225.96 L332.46,229.12 L334.43,232.35 L336.39,235.66 L338.35,239.08 L340.32,242.64 L342.28,246.36 L344.24,250.30 L346.21,254.46 L348.17,258.82 L350.13,263.32 L352.10,267.92 L354.06,272.58 L356.03,277.25 L357.99,281.89 L359.95,286.55 L361.92,291.28" fill="none" stroke="#e41a1c" stroke-width="1.65" stroke-dasharray="3.8,1.2,1.2,1.2" stroke-dashoffset="1.3" stroke-linejoin="round"/>
</g>
<circle cx="59.50" cy="45.54" r="3.0" fill="none" stroke="#e41a1c" stroke-width="1.70"/>
<circle cx="75.21" cy="47.76" r="3.0" fill="none" stroke="#e41a1c" stroke-width="1.70"/>
<circle cx="90.92" cy="50.30" r="3.0" fill="none" stroke="#e41a1c" stroke-width="1.70"/>
<circle cx="106.63" cy="53.15" r="3.0" fill="none" stroke="#e41a1c" stroke-width="1.70"/>
<circle cx="122.34" cy="56.64" r="3.0" fill="none" stroke="#e41a1c" stroke-width="1.70"/>
<circle cx="138.05" cy="60.13" r="3.0" fill="none" stroke="#e41a1c" stroke-width="1.70"/>
<circle cx="153.76" cy="64.26" r="3.0" fill="none" stroke="#e41a1c" stroke-width="1.70"/>
<circle cx="169.47" cy="69.33" r="3.0" fill="none" stroke="#e41a1c" stroke-width="1.70"/>
<circle cx="185.18" cy="75.68" r="3.0" fill="none" stroke="#e41a1c" stroke-width="1.70"/>
<circle cx="200.89" cy="83.61" r="3.0" fill="none" stroke="#e41a1c" stroke-width="1.70"/>
<circle cx="216.60" cy="92.62" r="3.0" fill="none" stroke="#e41a1c" stroke-width="1.70"/>
<circle cx="232.31" cy="103.60" r="3.0" fill="none" stroke="#e41a1c" stroke-width="1.70"/>
<circle cx="248.02" cy="116.92" r="3.0" fill="none" stroke="#e41a1c" stroke-width="1.70"/>
<circle cx="263.73" cy="132.53" r="3.0" fill="none" stroke="#e41a1c" stroke-width="1.70"/>
<circle cx="279.44" cy="151.63" r="3.0" fill="none" stroke="#e41a1c" stroke-width="1.70"/>
<circle cx="295.15" cy="174.03" r="3.0" fill="none" stroke="#e41a1c" stroke-width="1.70"/>
<circle cx="310.86" cy="196.23" r="3.0" fill="none" stroke="#e41a1c" stroke-width="1.70"/>
<circle cx="326.57" cy="219.71" r="3.0" fill="none" stroke="#e41a1c" stroke-width="1.70"/>
<circle cx="342.28" cy="246.36" r="3.0" fill="none" stroke="#e41a1c" stroke-width="1.70"/>
<g clip-path="url(#ca)">
<path d="M59.50,43.95 L61.46,44.05 L63.43,44.16 L65.39,44.27 L67.36,44.39 L69.32,44.51 L71.28,44.64 L73.25,44.77 L75.21,44.90 L77.17,45.04 L79.14,45.18 L81.10,45.33 L83.06,45.48 L85.03,45.64 L86.99,45.81 L88.96,45.99 L90.92,46.17 L92.88,46.37 L94.85,46.59 L96.81,46.82 L98.78,47.06 L100.74,47.31 L102.70,47.56 L104.67,47.82 L106.63,48.08 L108.59,48.33 L110.56,48.59 L112.52,48.86 L114.48,49.13 L116.45,49.41 L118.41,49.70 L120.38,49.99 L122.34,50.30 L124.30,50.62 L126.27,50.95 L128.23,51.29 L130.19,51.64 L132.16,52.01 L134.12,52.38 L136.09,52.76 L138.05,53.15 L140.01,53.55 L141.98,53.96 L143.94,54.37 L145.91,54.80 L147.87,55.24 L149.83,55.69 L151.80,56.16 L153.76,56.64 L155.72,57.15 L157.69,57.69 L159.65,58.26 L161.62,58.84 L163.58,59.42 L165.54,60.00 L167.51,60.55 L169.47,61.08 L171.43,61.57 L173.40,62.02 L175.36,62.46 L177.32,62.88 L179.29,63.33 L181.25,63.80 L183.22,64.31 L185.18,64.89 L187.14,65.57 L189.11,66.35 L191.07,67.22 L193.03,68.14 L195.00,69.10 L196.96,70.05 L198.93,70.99 L200.89,71.87 L202.85,72.70 L204.82,73.50 L206.78,74.29 L208.75,75.07 L210.71,75.87 L212.67,76.71 L214.64,77.59 L216.60,78.53 L218.56,79.57 L220.53,80.70 L222.49,81.89 L224.46,83.14 L226.42,84.40 L228.38,85.67 L230.35,86.91 L232.31,88.11 L234.27,89.28 L236.24,90.43 L238.20,91.57 L240.17,92.71 L242.13,93.84 L244.09,94.97 L246.06,96.11 L248.02,97.25 L249.98,98.39 L251.95,99.53 L253.91,100.67 L255.88,101.81 L257.84,102.95 L259.80,104.11 L261.77,105.27 L263.73,106.45 L265.69,107.65 L267.66,108.87 L269.62,110.10 L271.59,111.34 L273.55,112.58 L275.51,113.82 L277.48,115.06 L279.44,116.29 L281.40,117.51 L283.37,118.74 L285.33,119.96 L287.30,121.19 L289.26,122.41 L291.22,123.62 L293.19,124.81 L295.15,125.99 L297.11,127.15 L299.08,128.27 L301.04,129.37 L303.00,130.47 L304.97,131.58 L306.93,132.71 L308.90,133.86 L310.86,135.07 L312.82,136.32 L314.79,137.63 L316.75,138.97 L318.72,140.33 L320.68,141.71 L322.64,143.09 L324.61,144.45 L326.57,145.79 L328.53,147.08 L330.50,148.33 L332.46,149.56 L334.43,150.80 L336.39,152.06 L338.35,153.37 L340.32,154.77 L342.28,156.26 L344.24,157.87 L346.21,159.60 L348.17,161.43 L350.13,163.34 L352.10,165.32 L354.06,167.35 L356.03,169.41 L357.99,171.49 L359.95,173.60 L361.92,175.77 L363.88,177.99 L365.85,180.27 L367.81,182.60 L369.77,184.98 L371.74,187.41 L373.70,189.89" fill="none" stroke="#e41a1c" stroke-width="1.65" stroke-dasharray="4,3.4" stroke-dashoffset="1.3" stroke-linejoin="round"/>
</g>
<circle cx="59.50" cy="43.95" r="3.0" fill="none" stroke="#e41a1c" stroke-width="1.70"/>
<circle cx="75.21" cy="44.90" r="3.0" fill="none" stroke="#e41a1c" stroke-width="1.70"/>
<circle cx="90.92" cy="46.17" r="3.0" fill="none" stroke="#e41a1c" stroke-width="1.70"/>
<circle cx="106.63" cy="48.08" r="3.0" fill="none" stroke="#e41a1c" stroke-width="1.70"/>
<circle cx="122.34" cy="50.30" r="3.0" fill="none" stroke="#e41a1c" stroke-width="1.70"/>
<circle cx="138.05" cy="53.15" r="3.0" fill="none" stroke="#e41a1c" stroke-width="1.70"/>
<circle cx="153.76" cy="56.64" r="3.0" fill="none" stroke="#e41a1c" stroke-width="1.70"/>
<circle cx="169.47" cy="61.08" r="3.0" fill="none" stroke="#e41a1c" stroke-width="1.70"/>
<circle cx="185.18" cy="64.89" r="3.0" fill="none" stroke="#e41a1c" stroke-width="1.70"/>
<circle cx="200.89" cy="71.87" r="3.0" fill="none" stroke="#e41a1c" stroke-width="1.70"/>
<circle cx="216.60" cy="78.53" r="3.0" fill="none" stroke="#e41a1c" stroke-width="1.70"/>
<circle cx="232.31" cy="88.11" r="3.0" fill="none" stroke="#e41a1c" stroke-width="1.70"/>
<circle cx="248.02" cy="97.25" r="3.0" fill="none" stroke="#e41a1c" stroke-width="1.70"/>
<circle cx="263.73" cy="106.45" r="3.0" fill="none" stroke="#e41a1c" stroke-width="1.70"/>
<circle cx="279.44" cy="116.29" r="3.0" fill="none" stroke="#e41a1c" stroke-width="1.70"/>
<circle cx="295.15" cy="125.99" r="3.0" fill="none" stroke="#e41a1c" stroke-width="1.70"/>
<circle cx="310.86" cy="135.07" r="3.0" fill="none" stroke="#e41a1c" stroke-width="1.70"/>
<circle cx="326.57" cy="145.79" r="3.0" fill="none" stroke="#e41a1c" stroke-width="1.70"/>
<circle cx="342.28" cy="156.26" r="3.0" fill="none" stroke="#e41a1c" stroke-width="1.70"/>
<circle cx="357.99" cy="171.49" r="3.0" fill="none" stroke="#e41a1c" stroke-width="1.70"/>
<circle cx="373.70" cy="189.89" r="3.0" fill="none" stroke="#e41a1c" stroke-width="1.70"/>
<clipPath id="cb"><rect x="457.50" y="10.10" width="318.20" height="259.00"/></clipPath>
<line x1="537.05" y1="10.10" x2="537.05" y2="269.10" stroke="#dedede" stroke-width="1"/>
<line x1="616.60" y1="10.10" x2="616.60" y2="269.10" stroke="#dedede" stroke-width="1"/>
<line x1="696.15" y1="10.10" x2="696.15" y2="269.10" stroke="#dedede" stroke-width="1"/>
<line x1="457.50" y1="74.85" x2="775.70" y2="74.85" stroke="#dedede" stroke-width="1"/>
<line x1="457.50" y1="139.60" x2="775.70" y2="139.60" stroke="#dedede" stroke-width="1"/>
<line x1="457.50" y1="204.35" x2="775.70" y2="204.35" stroke="#dedede" stroke-width="1"/>
<path d="M537.05,269.10 v-3.5 M537.05,10.10 v3.5 M616.60,269.10 v-3.5 M616.60,10.10 v3.5 M696.15,269.10 v-3.5 M696.15,10.10 v3.5 M457.50,10.10 h3.5 M775.70,10.10 h-3.5 M457.50,55.36 h2 M775.70,55.36 h-2 M457.50,43.96 h2 M775.70,43.96 h-2 M457.50,35.87 h2 M775.70,35.87 h-2 M457.50,29.59 h2 M775.70,29.59 h-2 M457.50,24.46 h2 M775.70,24.46 h-2 M457.50,20.13 h2 M775.70,20.13 h-2 M457.50,16.37 h2 M775.70,16.37 h-2 M457.50,13.06 h2 M775.70,13.06 h-2 M457.50,74.85 h3.5 M775.70,74.85 h-3.5 M457.50,120.11 h2 M775.70,120.11 h-2 M457.50,108.71 h2 M775.70,108.71 h-2 M457.50,100.62 h2 M775.70,100.62 h-2 M457.50,94.34 h2 M775.70,94.34 h-2 M457.50,89.21 h2 M775.70,89.21 h-2 M457.50,84.88 h2 M775.70,84.88 h-2 M457.50,81.12 h2 M775.70,81.12 h-2 M457.50,77.81 h2 M775.70,77.81 h-2 M457.50,139.60 h3.5 M775.70,139.60 h-3.5 M457.50,184.86 h2 M775.70,184.86 h-2 M457.50,173.46 h2 M775.70,173.46 h-2 M457.50,165.37 h2 M775.70,165.37 h-2 M457.50,159.09 h2 M775.70,159.09 h-2 M457.50,153.96 h2 M775.70,153.96 h-2 M457.50,149.63 h2 M775.70,149.63 h-2 M457.50,145.87 h2 M775.70,145.87 h-2 M457.50,142.56 h2 M775.70,142.56 h-2 M457.50,204.35 h3.5 M775.70,204.35 h-3.5 M457.50,249.61 h2 M775.70,249.61 h-2 M457.50,238.21 h2 M775.70,238.21 h-2 M457.50,230.12 h2 M775.70,230.12 h-2 M457.50,223.84 h2 M775.70,223.84 h-2 M457.50,218.71 h2 M775.70,218.71 h-2 M457.50,214.38 h2 M775.70,214.38 h-2 M457.50,210.62 h2 M775.70,210.62 h-2 M457.50,207.31 h2 M775.70,207.31 h-2 M457.50,269.10 h3.5 M775.70,269.10 h-3.5" stroke="#262626" stroke-width="1" fill="none"/>
<rect x="457.50" y="10.10" width="318.20" height="259.00" fill="none" stroke="#303030" stroke-width="1"/>
<g clip-path="url(#cb)">
<path d="M457.50,44.74 L459.49,45.01 L461.48,45.29 L463.47,45.58 L465.45,45.89 L467.44,46.20 L469.43,46.53 L471.42,46.86 L473.41,47.20 L475.40,47.55 L477.39,47.91 L479.38,48.28 L481.37,48.67 L483.35,49.07 L485.34,49.48 L487.33,49.92 L489.32,50.37 L491.31,50.86 L493.30,51.37 L495.29,51.91 L497.27,52.48 L499.26,53.06 L501.25,53.66 L503.24,54.28 L505.23,54.91 L507.22,55.55 L509.21,56.22 L511.20,56.90 L513.18,57.61 L515.17,58.33 L517.16,59.08 L519.15,59.83 L521.14,60.61 L523.13,61.38 L525.12,62.17 L527.11,62.96 L529.10,63.79 L531.08,64.64 L533.07,65.53 L535.06,66.47 L537.05,67.47 L539.04,68.54 L541.03,69.69 L543.02,70.91 L545.00,72.20 L546.99,73.53 L548.98,74.91 L550.97,76.32 L552.96,77.76 L554.95,79.23 L556.94,80.74 L558.93,82.30 L560.91,83.91 L562.90,85.58 L564.89,87.32 L566.88,89.14 L568.87,91.04 L570.86,93.03 L572.85,95.12 L574.84,97.30 L576.83,99.59 L578.81,101.99 L580.80,104.49 L582.79,107.09 L584.78,109.81 L586.77,112.67 L588.76,115.69 L590.75,118.87 L592.74,122.20 L594.72,125.68 L596.71,129.32 L598.70,133.09 L600.69,137.01 L602.68,141.11 L604.67,145.43 L606.66,149.96 L608.64,154.70 L610.63,159.63 L612.62,164.77 L614.61,170.09 L616.60,175.60 L618.59,181.34 L620.58,187.35 L622.57,193.64 L624.56,200.19 L626.54,207.00 L628.53,214.07 L630.52,221.39 L632.51,228.95 L634.50,236.83 L636.49,245.08 L638.48,253.69 L640.47,262.64 L642.45,271.91 L644.44,281.48 L646.43,291.34" fill="none" stroke="#e41a1c" stroke-width="1.65" stroke-linejoin="round"/>
</g>
<circle cx="457.50" cy="44.74" r="3.0" fill="none" stroke="#e41a1c" stroke-width="1.70"/>
<circle cx="473.41" cy="47.20" r="3.0" fill="none" stroke="#e41a1c" stroke-width="1.70"/>
<circle cx="489.32" cy="50.37" r="3.0" fill="none" stroke="#e41a1c" stroke-width="1.70"/>
<circle cx="505.23" cy="54.91" r="3.0" fill="none" stroke="#e41a1c" stroke-width="1.70"/>
<circle cx="521.14" cy="60.61" r="3.0" fill="none" stroke="#e41a1c" stroke-width="1.70"/>
<circle cx="537.05" cy="67.47" r="3.0" fill="none" stroke="#e41a1c" stroke-width="1.70"/>
<circle cx="552.96" cy="77.76" r="3.0" fill="none" stroke="#e41a1c" stroke-width="1.70"/>
<circle cx="568.87" cy="91.04" r="3.0" fill="none" stroke="#e41a1c" stroke-width="1.70"/>
<circle cx="584.78" cy="109.81" r="3.0" fill="none" stroke="#e41a1c" stroke-width="1.70"/>
<circle cx="600.69" cy="137.01" r="3.0" fill="none" stroke="#e41a1c" stroke-width="1.70"/>
<circle cx="616.60" cy="175.60" r="3.0" fill="none" stroke="#e41a1c" stroke-width="1.70"/>
<circle cx="632.51" cy="228.95" r="3.0" fill="none" stroke="#e41a1c" stroke-width="1.70"/>
<g clip-path="url(#cb)">
<path d="M457.50,40.86 L459.49,41.12 L461.48,41.39 L463.47,41.67 L465.45,41.95 L467.44,42.24 L469.43,42.53 L471.42,42.82 L473.41,43.12 L475.40,43.43 L477.39,43.74 L479.38,44.06 L481.37,44.38 L483.35,44.70 L485.34,45.04 L487.33,45.37 L489.32,45.71 L491.31,46.06 L493.30,46.40 L495.29,46.75 L497.27,47.11 L499.26,47.48 L501.25,47.85 L503.24,48.23 L505.23,48.63 L507.22,49.04 L509.21,49.47 L511.20,49.91 L513.18,50.36 L515.17,50.82 L517.16,51.28 L519.15,51.74 L521.14,52.19 L523.13,52.63 L525.12,53.06 L527.11,53.50 L529.10,53.93 L531.08,54.37 L533.07,54.82 L535.06,55.28 L537.05,55.75 L539.04,56.24 L541.03,56.73 L543.02,57.24 L545.00,57.75 L546.99,58.28 L548.98,58.83 L550.97,59.38 L552.96,59.96 L554.95,60.55 L556.94,61.15 L558.93,61.77 L560.91,62.41 L562.90,63.06 L564.89,63.74 L566.88,64.43 L568.87,65.14 L570.86,65.87 L572.85,66.62 L574.84,67.40 L576.83,68.20 L578.81,69.02 L580.80,69.86 L582.79,70.72 L584.78,71.61 L586.77,72.53 L588.76,73.49 L590.75,74.47 L592.74,75.48 L594.72,76.52 L596.71,77.57 L598.70,78.63 L600.69,79.71 L602.68,80.79 L604.67,81.88 L606.66,82.99 L608.64,84.12 L610.63,85.27 L612.62,86.45 L614.61,87.66 L616.60,88.90 L618.59,90.18 L620.58,91.50 L622.57,92.84 L624.56,94.23 L626.54,95.65 L628.53,97.10 L630.52,98.58 L632.51,100.10 L634.50,101.66 L636.49,103.27 L638.48,104.91 L640.47,106.60 L642.45,108.33 L644.44,110.09 L646.43,111.88 L648.42,113.70 L650.41,115.55 L652.40,117.43 L654.39,119.35 L656.38,121.31 L658.36,123.31 L660.35,125.36 L662.34,127.47 L664.33,129.63 L666.32,131.86 L668.31,134.15 L670.30,136.51 L672.28,138.93 L674.27,141.41 L676.26,143.94 L678.25,146.51 L680.24,149.12 L682.23,151.80 L684.22,154.58 L686.21,157.43 L688.19,160.33 L690.18,163.26 L692.17,166.19 L694.16,169.10 L696.15,171.97 L698.14,174.81 L700.13,177.62 L702.12,180.43 L704.11,183.24 L706.09,186.06 L708.08,188.89 L710.07,191.75 L712.06,194.64 L714.05,197.55 L716.04,200.46 L718.03,203.39 L720.01,206.34 L722.00,209.33 L723.99,212.36 L725.98,215.45 L727.97,218.59 L729.96,221.78 L731.95,224.97 L733.94,228.20 L735.92,231.49 L737.91,234.87 L739.90,238.36 L741.89,242.00 L743.88,245.79 L745.87,249.81 L747.86,254.06 L749.85,258.51 L751.84,263.10 L753.82,267.79 L755.81,272.55 L757.80,277.31 L759.79,282.05 L761.78,286.80 L763.77,291.63" fill="none" stroke="#e41a1c" stroke-width="1.65" stroke-dasharray="3.8,1.2,1.2,1.2" stroke-dashoffset="1.3" stroke-linejoin="round"/>
</g>
<circle cx="457.50" cy="40.86" r="3.0" fill="none" stroke="#e41a1c" stroke-width="1.70"/>
<circle cx="473.41" cy="43.12" r="3.0" fill="none" stroke="#e41a1c" stroke-width="1.70"/>
<circle cx="489.32" cy="45.71" r="3.0" fill="none" stroke="#e41a1c" stroke-width="1.70"/>
<circle cx="505.23" cy="48.63" r="3.0" fill="none" stroke="#e41a1c" stroke-width="1.70"/>
<circle cx="521.14" cy="52.19" r="3.0" fill="none" stroke="#e41a1c" stroke-width="1.70"/>
<circle cx="537.05" cy="55.75" r="3.0" fill="none" stroke="#e41a1c" stroke-width="1.70"/>
<circle cx="552.96" cy="59.96" r="3.0" fill="none" stroke="#e41a1c" stroke-width="1.70"/>
<circle cx="568.87" cy="65.14" r="3.0" fill="none" stroke="#e41a1c" stroke-width="1.70"/>
<circle cx="584.78" cy="71.61" r="3.0" fill="none" stroke="#e41a1c" stroke-width="1.70"/>
<circle cx="600.69" cy="79.71" r="3.0" fill="none" stroke="#e41a1c" stroke-width="1.70"/>
<circle cx="616.60" cy="88.90" r="3.0" fill="none" stroke="#e41a1c" stroke-width="1.70"/>
<circle cx="632.51" cy="100.10" r="3.0" fill="none" stroke="#e41a1c" stroke-width="1.70"/>
<circle cx="648.42" cy="113.70" r="3.0" fill="none" stroke="#e41a1c" stroke-width="1.70"/>
<circle cx="664.33" cy="129.63" r="3.0" fill="none" stroke="#e41a1c" stroke-width="1.70"/>
<circle cx="680.24" cy="149.12" r="3.0" fill="none" stroke="#e41a1c" stroke-width="1.70"/>
<circle cx="696.15" cy="171.97" r="3.0" fill="none" stroke="#e41a1c" stroke-width="1.70"/>
<circle cx="712.06" cy="194.64" r="3.0" fill="none" stroke="#e41a1c" stroke-width="1.70"/>
<circle cx="727.97" cy="218.59" r="3.0" fill="none" stroke="#e41a1c" stroke-width="1.70"/>
<circle cx="743.88" cy="245.79" r="3.0" fill="none" stroke="#e41a1c" stroke-width="1.70"/>
<g clip-path="url(#cb)">
<path d="M457.50,39.24 L459.49,39.34 L461.48,39.45 L463.47,39.57 L465.45,39.69 L467.44,39.81 L469.43,39.94 L471.42,40.07 L473.41,40.21 L475.40,40.35 L477.39,40.49 L479.38,40.64 L481.37,40.80 L483.35,40.96 L485.34,41.13 L487.33,41.31 L489.32,41.50 L491.31,41.71 L493.30,41.93 L495.29,42.16 L497.27,42.41 L499.26,42.66 L501.25,42.92 L503.24,43.18 L505.23,43.45 L507.22,43.71 L509.21,43.98 L511.20,44.25 L513.18,44.52 L515.17,44.81 L517.16,45.10 L519.15,45.40 L521.14,45.71 L523.13,46.04 L525.12,46.38 L527.11,46.73 L529.10,47.09 L531.08,47.46 L533.07,47.84 L535.06,48.23 L537.05,48.63 L539.04,49.03 L541.03,49.45 L543.02,49.87 L545.00,50.31 L546.99,50.76 L548.98,51.22 L550.97,51.70 L552.96,52.19 L554.95,52.71 L556.94,53.26 L558.93,53.84 L560.91,54.43 L562.90,55.02 L564.89,55.61 L566.88,56.18 L568.87,56.72 L570.86,57.22 L572.85,57.68 L574.84,58.12 L576.83,58.56 L578.81,59.01 L580.80,59.49 L582.79,60.01 L584.78,60.61 L586.77,61.30 L588.76,62.10 L590.75,62.98 L592.74,63.93 L594.72,64.90 L596.71,65.87 L598.70,66.82 L600.69,67.73 L602.68,68.58 L604.67,69.39 L606.66,70.19 L608.64,70.99 L610.63,71.81 L612.62,72.66 L614.61,73.56 L616.60,74.53 L618.59,75.58 L620.58,76.73 L622.57,77.96 L624.56,79.22 L626.54,80.52 L628.53,81.81 L630.52,83.08 L632.51,84.30 L634.50,85.49 L636.49,86.66 L638.48,87.83 L640.47,88.99 L642.45,90.15 L644.44,91.30 L646.43,92.46 L648.42,93.63 L650.41,94.79 L652.40,95.96 L654.39,97.12 L656.38,98.28 L658.36,99.45 L660.35,100.62 L662.34,101.81 L664.33,103.02 L666.32,104.24 L668.31,105.48 L670.30,106.74 L672.28,108.00 L674.27,109.27 L676.26,110.54 L678.25,111.80 L680.24,113.05 L682.23,114.30 L684.22,115.55 L686.21,116.81 L688.19,118.06 L690.18,119.30 L692.17,120.53 L694.16,121.75 L696.15,122.96 L698.14,124.14 L700.13,125.28 L702.12,126.41 L704.11,127.53 L706.09,128.66 L708.08,129.81 L710.07,130.99 L712.06,132.22 L714.05,133.50 L716.04,134.83 L718.03,136.20 L720.01,137.59 L722.00,139.00 L723.99,140.40 L725.98,141.79 L727.97,143.16 L729.96,144.48 L731.95,145.76 L733.94,147.01 L735.92,148.27 L737.91,149.56 L739.90,150.90 L741.89,152.32 L743.88,153.84 L745.87,155.49 L747.86,157.26 L749.85,159.12 L751.84,161.07 L753.82,163.09 L755.81,165.16 L757.80,167.26 L759.79,169.38 L761.78,171.54 L763.77,173.75 L765.76,176.02 L767.75,178.35 L769.73,180.73 L771.72,183.16 L773.71,185.64 L775.70,188.16" fill="none" stroke="#e41a1c" stroke-width="1.65" stroke-dasharray="4,3.4" stroke-dashoffset="1.3" stroke-linejoin="round"/>
</g>
<circle cx="457.50" cy="39.24" r="3.0" fill="none" stroke="#e41a1c" stroke-width="1.70"/>
<circle cx="473.41" cy="40.21" r="3.0" fill="none" stroke="#e41a1c" stroke-width="1.70"/>
<circle cx="489.32" cy="41.50" r="3.0" fill="none" stroke="#e41a1c" stroke-width="1.70"/>
<circle cx="505.23" cy="43.45" r="3.0" fill="none" stroke="#e41a1c" stroke-width="1.70"/>
<circle cx="521.14" cy="45.71" r="3.0" fill="none" stroke="#e41a1c" stroke-width="1.70"/>
<circle cx="537.05" cy="48.63" r="3.0" fill="none" stroke="#e41a1c" stroke-width="1.70"/>
<circle cx="552.96" cy="52.19" r="3.0" fill="none" stroke="#e41a1c" stroke-width="1.70"/>
<circle cx="568.87" cy="56.72" r="3.0" fill="none" stroke="#e41a1c" stroke-width="1.70"/>
<circle cx="584.78" cy="60.61" r="3.0" fill="none" stroke="#e41a1c" stroke-width="1.70"/>
<circle cx="600.69" cy="67.73" r="3.0" fill="none" stroke="#e41a1c" stroke-width="1.70"/>
<circle cx="616.60" cy="74.53" r="3.0" fill="none" stroke="#e41a1c" stroke-width="1.70"/>
<circle cx="632.51" cy="84.30" r="3.0" fill="none" stroke="#e41a1c" stroke-width="1.70"/>
<circle cx="648.42" cy="93.63" r="3.0" fill="none" stroke="#e41a1c" stroke-width="1.70"/>
<circle cx="664.33" cy="103.02" r="3.0" fill="none" stroke="#e41a1c" stroke-width="1.70"/>
<circle cx="680.24" cy="113.05" r="3.0" fill="none" stroke="#e41a1c" stroke-width="1.70"/>
<circle cx="696.15" cy="122.96" r="3.0" fill="none" stroke="#e41a1c" stroke-width="1.70"/>
<circle cx="712.06" cy="132.22" r="3.0" fill="none" stroke="#e41a1c" stroke-width="1.70"/>
<circle cx="727.97" cy="143.16" r="3.0" fill="none" stroke="#e41a1c" stroke-width="1.70"/>
<circle cx="743.88" cy="153.84" r="3.0" fill="none" stroke="#e41a1c" stroke-width="1.70"/>
<circle cx="759.79" cy="169.38" r="3.0" fill="none" stroke="#e41a1c" stroke-width="1.70"/>
<circle cx="775.70" cy="188.16" r="3.0" fill="none" stroke="#e41a1c" stroke-width="1.70"/>
<g clip-path="url(#cb)">
<path d="M457.50,41.18 L459.49,41.41 L461.48,41.64 L463.47,41.87 L465.45,42.11 L467.44,42.36 L469.43,42.61 L471.42,42.86 L473.41,43.12 L475.40,43.39 L477.39,43.66 L479.38,43.93 L481.37,44.21 L483.35,44.50 L485.34,44.79 L487.33,45.09 L489.32,45.39 L491.31,45.69 L493.30,46.00 L495.29,46.32 L497.27,46.64 L499.26,46.97 L501.25,47.30 L503.24,47.64 L505.23,47.98 L507.22,48.32 L509.21,48.68 L511.20,49.03 L513.18,49.40 L515.17,49.76 L517.16,50.13 L519.15,50.51 L521.14,50.89 L523.13,51.28 L525.12,51.66 L527.11,52.06 L529.10,52.45 L531.08,52.86 L533.07,53.27 L535.06,53.69 L537.05,54.13 L539.04,54.57 L541.03,55.02 L543.02,55.47 L545.00,55.94 L546.99,56.43 L548.98,56.93 L550.97,57.46 L552.96,58.02 L554.95,58.60 L556.94,59.23 L558.93,59.88 L560.91,60.56 L562.90,61.28 L564.89,62.02 L566.88,62.79 L568.87,63.58 L570.86,64.43 L572.85,65.34 L574.84,66.29 L576.83,67.29 L578.81,68.30 L580.80,69.31 L582.79,70.31 L584.78,71.29 L586.77,72.23 L588.76,73.16 L590.75,74.08 L592.74,75.00 L594.72,75.94 L596.71,76.90 L598.70,77.89 L600.69,78.93 L602.68,80.02 L604.67,81.16 L606.66,82.34 L608.64,83.55 L610.63,84.79 L612.62,86.04 L614.61,87.31 L616.60,88.58 L618.59,89.85 L620.58,91.14 L622.57,92.45 L624.56,93.77 L626.54,95.12 L628.53,96.48 L630.52,97.86 L632.51,99.26 L634.50,100.65 L636.49,102.02 L638.48,103.39 L640.47,104.79 L642.45,106.24 L644.44,107.79 L646.43,109.44 L648.42,111.24 L650.41,113.19 L652.40,115.29 L654.39,117.55 L656.38,119.96 L658.36,122.54 L660.35,125.29 L662.34,128.21 L664.33,131.31 L666.32,134.79 L668.31,138.78 L670.30,143.14 L672.28,147.76 L674.27,152.51 L676.26,157.26 L678.25,161.89 L680.24,166.28 L682.23,170.43 L684.22,174.46 L686.21,178.42 L688.19,182.36 L690.18,186.34 L692.17,190.40 L694.16,194.60 L696.15,198.98 L698.14,203.51 L700.13,208.16 L702.12,212.92 L704.11,217.81 L706.09,222.83 L708.08,228.00 L710.07,233.32 L712.06,238.80 L714.05,244.47 L716.04,250.33 L718.03,256.39 L720.01,262.64 L722.00,269.06 L723.99,275.64 L725.98,282.40 L727.97,289.30" fill="none" stroke="#1c14c4" stroke-width="1.65" stroke-linejoin="round"/>
</g>
<path d="M454.10,41.18 H460.90 M457.50,37.78 V44.58" stroke="#1c14c4" stroke-width="1.50"/>
<path d="M470.01,43.12 H476.81 M473.41,39.72 V46.52" stroke="#1c14c4" stroke-width="1.50"/>
<path d="M485.92,45.39 H492.72 M489.32,41.99 V48.79" stroke="#1c14c4" stroke-width="1.50"/>
<path d="M501.83,47.98 H508.63 M505.23,44.58 V51.38" stroke="#1c14c4" stroke-width="1.50"/>
<path d="M517.74,50.89 H524.54 M521.14,47.49 V54.29" stroke="#1c14c4" stroke-width="1.50"/>
<path d="M533.65,54.13 H540.45 M537.05,50.73 V57.53" stroke="#1c14c4" stroke-width="1.50"/>
<path d="M549.56,58.02 H556.36 M552.96,54.62 V61.41" stroke="#1c14c4" stroke-width="1.50"/>
<path d="M565.47,63.58 H572.27 M568.87,60.18 V66.98" stroke="#1c14c4" stroke-width="1.50"/>
<path d="M581.38,71.29 H588.18 M584.78,67.89 V74.69" stroke="#1c14c4" stroke-width="1.50"/>
<path d="M597.29,78.93 H604.09 M600.69,75.53 V82.33" stroke="#1c14c4" stroke-width="1.50"/>
<path d="M613.20,88.58 H620.00 M616.60,85.18 V91.98" stroke="#1c14c4" stroke-width="1.50"/>
<path d="M629.11,99.26 H635.91 M632.51,95.86 V102.66" stroke="#1c14c4" stroke-width="1.50"/>
<path d="M645.02,111.24 H651.82 M648.42,107.84 V114.64" stroke="#1c14c4" stroke-width="1.50"/>
<path d="M660.93,131.31 H667.73 M664.33,127.91 V134.71" stroke="#1c14c4" stroke-width="1.50"/>
<path d="M676.84,166.28 H683.64 M680.24,162.88 V169.68" stroke="#1c14c4" stroke-width="1.50"/>
<path d="M692.75,198.98 H699.55 M696.15,195.58 V202.38" stroke="#1c14c4" stroke-width="1.50"/>
<path d="M708.66,238.80 H715.46 M712.06,235.40 V242.20" stroke="#1c14c4" stroke-width="1.50"/>
<g clip-path="url(#cb)">
<path d="M457.50,40.99 L459.49,41.16 L461.48,41.33 L463.47,41.51 L465.45,41.70 L467.44,41.89 L469.43,42.08 L471.42,42.28 L473.41,42.48 L475.40,42.68 L477.39,42.88 L479.38,43.08 L481.37,43.29 L483.35,43.51 L485.34,43.73 L487.33,43.97 L489.32,44.22 L491.31,44.50 L493.30,44.80 L495.29,45.12 L497.27,45.46 L499.26,45.80 L501.25,46.14 L503.24,46.48 L505.23,46.81 L507.22,47.13 L509.21,47.45 L511.20,47.77 L513.18,48.09 L515.17,48.41 L517.16,48.73 L519.15,49.06 L521.14,49.40 L523.13,49.75 L525.12,50.11 L527.11,50.47 L529.10,50.84 L531.08,51.21 L533.07,51.58 L535.06,51.95 L537.05,52.32 L539.04,52.68 L541.03,53.03 L543.02,53.38 L545.00,53.74 L546.99,54.10 L548.98,54.46 L550.97,54.84 L552.96,55.23 L554.95,55.64 L556.94,56.06 L558.93,56.50 L560.91,56.95 L562.90,57.40 L564.89,57.86 L566.88,58.33 L568.87,58.79 L570.86,59.26 L572.85,59.73 L574.84,60.20 L576.83,60.68 L578.81,61.16 L580.80,61.66 L582.79,62.16 L584.78,62.68 L586.77,63.20 L588.76,63.72 L590.75,64.26 L592.74,64.80 L594.72,65.36 L596.71,65.95 L598.70,66.56 L600.69,67.21 L602.68,67.91 L604.67,68.66 L606.66,69.46 L608.64,70.28 L610.63,71.13 L612.62,71.99 L614.61,72.84 L616.60,73.68 L618.59,74.51 L620.58,75.35 L622.57,76.18 L624.56,77.02 L626.54,77.87 L628.53,78.73 L630.52,79.60 L632.51,80.48 L634.50,81.38 L636.49,82.30 L638.48,83.23 L640.47,84.16 L642.45,85.11 L644.44,86.05 L646.43,86.99 L648.42,87.93 L650.41,88.86 L652.40,89.78 L654.39,90.69 L656.38,91.61 L658.36,92.54 L660.35,93.47 L662.34,94.42 L664.33,95.38 L666.32,96.35 L668.31,97.34 L670.30,98.35 L672.28,99.36 L674.27,100.38 L676.26,101.41 L678.25,102.44 L680.24,103.47 L682.23,104.49 L684.22,105.51 L686.21,106.53 L688.19,107.55 L690.18,108.59 L692.17,109.65 L694.16,110.75 L696.15,111.89 L698.14,113.08 L700.13,114.31 L702.12,115.59 L704.11,116.89 L706.09,118.22 L708.08,119.56 L710.07,120.91 L712.06,122.25 L714.05,123.58 L716.04,124.90 L718.03,126.22 L720.01,127.56 L722.00,128.93 L723.99,130.32 L725.98,131.76 L727.97,133.25 L729.96,134.81 L731.95,136.42 L733.94,138.09 L735.92,139.80 L737.91,141.54 L739.90,143.30 L741.89,145.07 L743.88,146.85 L745.87,148.62 L747.86,150.37 L749.85,152.12 L751.84,153.91 L753.82,155.74 L755.81,157.65 L757.80,159.64 L759.79,161.74 L761.78,163.97 L763.77,166.31 L765.76,168.76 L767.75,171.32 L769.73,173.97 L771.72,176.72 L773.71,179.55 L775.70,182.46" fill="none" stroke="#1c14c4" stroke-width="1.65" stroke-dasharray="3.8,1.2,1.2,1.2" stroke-dashoffset="5.0" stroke-linejoin="round"/>
</g>
<path d="M454.10,40.99 H460.90 M457.50,37.59 V44.39" stroke="#1c14c4" stroke-width="1.50"/>
<path d="M470.01,42.48 H476.81 M473.41,39.08 V45.88" stroke="#1c14c4" stroke-width="1.50"/>
<path d="M485.92,44.22 H492.72 M489.32,40.82 V47.62" stroke="#1c14c4" stroke-width="1.50"/>
<path d="M501.83,46.81 H508.63 M505.23,43.41 V50.21" stroke="#1c14c4" stroke-width="1.50"/>
<path d="M517.74,49.40 H524.54 M521.14,46.00 V52.80" stroke="#1c14c4" stroke-width="1.50"/>
<path d="M533.65,52.32 H540.45 M537.05,48.92 V55.72" stroke="#1c14c4" stroke-width="1.50"/>
<path d="M549.56,55.23 H556.36 M552.96,51.83 V58.63" stroke="#1c14c4" stroke-width="1.50"/>
<path d="M565.47,58.79 H572.27 M568.87,55.39 V62.19" stroke="#1c14c4" stroke-width="1.50"/>
<path d="M581.38,62.68 H588.18 M584.78,59.28 V66.08" stroke="#1c14c4" stroke-width="1.50"/>
<path d="M597.29,67.21 H604.09 M600.69,63.81 V70.61" stroke="#1c14c4" stroke-width="1.50"/>
<path d="M613.20,73.68 H620.00 M616.60,70.28 V77.08" stroke="#1c14c4" stroke-width="1.50"/>
<path d="M629.11,80.48 H635.91 M632.51,77.08 V83.88" stroke="#1c14c4" stroke-width="1.50"/>
<path d="M645.02,87.93 H651.82 M648.42,84.53 V91.33" stroke="#1c14c4" stroke-width="1.50"/>
<path d="M660.93,95.38 H667.73 M664.33,91.98 V98.78" stroke="#1c14c4" stroke-width="1.50"/>
<path d="M676.84,103.47 H683.64 M680.24,100.07 V106.87" stroke="#1c14c4" stroke-width="1.50"/>
<path d="M692.75,111.89 H699.55 M696.15,108.49 V115.29" stroke="#1c14c4" stroke-width="1.50"/>
<path d="M708.66,122.25 H715.46 M712.06,118.85 V125.65" stroke="#1c14c4" stroke-width="1.50"/>
<path d="M724.57,133.25 H731.37 M727.97,129.85 V136.65" stroke="#1c14c4" stroke-width="1.50"/>
<path d="M740.48,146.85 H747.28 M743.88,143.45 V150.25" stroke="#1c14c4" stroke-width="1.50"/>
<path d="M756.39,161.74 H763.19 M759.79,158.34 V165.14" stroke="#1c14c4" stroke-width="1.50"/>
<path d="M772.30,182.46 H779.10 M775.70,179.06 V185.86" stroke="#1c14c4" stroke-width="1.50"/>
<g clip-path="url(#cb)">
<path d="M457.50,39.37 L459.49,39.46 L461.48,39.55 L463.47,39.64 L465.45,39.74 L467.44,39.84 L469.43,39.94 L471.42,40.04 L473.41,40.14 L475.40,40.25 L477.39,40.35 L479.38,40.46 L481.37,40.57 L483.35,40.68 L485.34,40.80 L487.33,40.92 L489.32,41.05 L491.31,41.18 L493.30,41.32 L495.29,41.47 L497.27,41.62 L499.26,41.78 L501.25,41.94 L503.24,42.11 L505.23,42.28 L507.22,42.46 L509.21,42.65 L511.20,42.84 L513.18,43.04 L515.17,43.25 L517.16,43.46 L519.15,43.68 L521.14,43.90 L523.13,44.12 L525.12,44.35 L527.11,44.59 L529.10,44.83 L531.08,45.08 L533.07,45.33 L535.06,45.58 L537.05,45.84 L539.04,46.10 L541.03,46.37 L543.02,46.63 L545.00,46.90 L546.99,47.18 L548.98,47.48 L550.97,47.78 L552.96,48.11 L554.95,48.46 L556.94,48.83 L558.93,49.23 L560.91,49.64 L562.90,50.06 L564.89,50.49 L566.88,50.92 L568.87,51.35 L570.86,51.77 L572.85,52.20 L574.84,52.64 L576.83,53.09 L578.81,53.53 L580.80,53.99 L582.79,54.44 L584.78,54.91 L586.77,55.37 L588.76,55.83 L590.75,56.30 L592.74,56.77 L594.72,57.26 L596.71,57.75 L598.70,58.26 L600.69,58.79 L602.68,59.34 L604.67,59.92 L606.66,60.51 L608.64,61.11 L610.63,61.74 L612.62,62.37 L614.61,63.00 L616.60,63.65 L618.59,64.30 L620.58,64.95 L622.57,65.62 L624.56,66.30 L626.54,66.99 L628.53,67.70 L630.52,68.42 L632.51,69.15 L634.50,69.90 L636.49,70.67 L638.48,71.45 L640.47,72.25 L642.45,73.07 L644.44,73.90 L646.43,74.75 L648.42,75.63 L650.41,76.53 L652.40,77.47 L654.39,78.44 L656.38,79.42 L658.36,80.42 L660.35,81.42 L662.34,82.42 L664.33,83.40 L666.32,84.36 L668.31,85.32 L670.30,86.27 L672.28,87.23 L674.27,88.19 L676.26,89.16 L678.25,90.15 L680.24,91.17 L682.23,92.22 L684.22,93.31 L686.21,94.42 L688.19,95.55 L690.18,96.67 L692.17,97.77 L694.16,98.83 L696.15,99.84 L698.14,100.80 L700.13,101.71 L702.12,102.59 L704.11,103.45 L706.09,104.31 L708.08,105.18 L710.07,106.08 L712.06,107.03 L714.05,108.02 L716.04,109.05 L718.03,110.10 L720.01,111.17 L722.00,112.26 L723.99,113.35 L725.98,114.43 L727.97,115.51 L729.96,116.58 L731.95,117.63 L733.94,118.68 L735.92,119.74 L737.91,120.81 L739.90,121.91 L741.89,123.03 L743.88,124.19 L745.87,125.40 L747.86,126.67 L749.85,127.97 L751.84,129.30 L753.82,130.63 L755.81,131.96 L757.80,133.27 L759.79,134.55 L761.78,135.80 L763.77,137.04 L765.76,138.27 L767.75,139.49 L769.73,140.69 L771.72,141.89 L773.71,143.08 L775.70,144.26" fill="none" stroke="#1c14c4" stroke-width="1.65" stroke-dasharray="4,3.4" stroke-dashoffset="5.0" stroke-linejoin="round"/>
</g>
<path d="M454.10,39.37 H460.90 M457.50,35.97 V42.77" stroke="#1c14c4" stroke-width="1.50"/>
<path d="M470.01,40.14 H476.81 M473.41,36.74 V43.54" stroke="#1c14c4" stroke-width="1.50"/>
<path d="M485.92,41.05 H492.72 M489.32,37.65 V44.45" stroke="#1c14c4" stroke-width="1.50"/>
<path d="M501.83,42.28 H508.63 M505.23,38.88 V45.68" stroke="#1c14c4" stroke-width="1.50"/>
<path d="M517.74,43.90 H524.54 M521.14,40.50 V47.30" stroke="#1c14c4" stroke-width="1.50"/>
<path d="M533.65,45.84 H540.45 M537.05,42.44 V49.24" stroke="#1c14c4" stroke-width="1.50"/>
<path d="M549.56,48.11 H556.36 M552.96,44.71 V51.51" stroke="#1c14c4" stroke-width="1.50"/>
<path d="M565.47,51.35 H572.27 M568.87,47.95 V54.75" stroke="#1c14c4" stroke-width="1.50"/>
<path d="M581.38,54.91 H588.18 M584.78,51.51 V58.31" stroke="#1c14c4" stroke-width="1.50"/>
<path d="M597.29,58.79 H604.09 M600.69,55.39 V62.19" stroke="#1c14c4" stroke-width="1.50"/>
<path d="M613.20,63.65 H620.00 M616.60,60.25 V67.05" stroke="#1c14c4" stroke-width="1.50"/>
<path d="M629.11,69.15 H635.91 M632.51,65.75 V72.55" stroke="#1c14c4" stroke-width="1.50"/>
<path d="M645.02,75.63 H651.82 M648.42,72.23 V79.03" stroke="#1c14c4" stroke-width="1.50"/>
<path d="M660.93,83.40 H667.73 M664.33,80.00 V86.80" stroke="#1c14c4" stroke-width="1.50"/>
<path d="M676.84,91.17 H683.64 M680.24,87.77 V94.57" stroke="#1c14c4" stroke-width="1.50"/>
<path d="M692.75,99.84 H699.55 M696.15,96.44 V103.24" stroke="#1c14c4" stroke-width="1.50"/>
<path d="M708.66,107.03 H715.46 M712.06,103.63 V110.43" stroke="#1c14c4" stroke-width="1.50"/>
<path d="M724.57,115.51 H731.37 M727.97,112.11 V118.91" stroke="#1c14c4" stroke-width="1.50"/>
<path d="M740.48,124.19 H747.28 M743.88,120.79 V127.59" stroke="#1c14c4" stroke-width="1.50"/>
<path d="M756.39,134.55 H763.19 M759.79,131.15 V137.95" stroke="#1c14c4" stroke-width="1.50"/>
<path d="M772.30,144.26 H779.10 M775.70,140.86 V147.66" stroke="#1c14c4" stroke-width="1.50"/>
<g clip-path="url(#cb)">
<path d="M457.50,41.83 L459.49,42.09 L461.48,42.36 L463.47,42.64 L465.45,42.92 L467.44,43.21 L469.43,43.50 L471.42,43.79 L473.41,44.09 L475.40,44.40 L477.39,44.70 L479.38,45.01 L481.37,45.33 L483.35,45.66 L485.34,45.99 L487.33,46.33 L489.32,46.68 L491.31,47.05 L493.30,47.44 L495.29,47.83 L497.27,48.24 L499.26,48.65 L501.25,49.07 L503.24,49.50 L505.23,49.92 L507.22,50.35 L509.21,50.80 L511.20,51.25 L513.18,51.70 L515.17,52.16 L517.16,52.61 L519.15,53.05 L521.14,53.48 L523.13,53.90 L525.12,54.30 L527.11,54.69 L529.10,55.08 L531.08,55.48 L533.07,55.88 L535.06,56.29 L537.05,56.72 L539.04,57.16 L541.03,57.61 L543.02,58.06 L545.00,58.53 L546.99,59.02 L548.98,59.52 L550.97,60.05 L552.96,60.61 L554.95,61.19 L556.94,61.82 L558.93,62.47 L560.91,63.15 L562.90,63.87 L564.89,64.61 L566.88,65.38 L568.87,66.17 L570.86,67.02 L572.85,67.93 L574.84,68.88 L576.83,69.88 L578.81,70.89 L580.80,71.90 L582.79,72.90 L584.78,73.88 L586.77,74.83 L588.76,75.77 L590.75,76.70 L592.74,77.63 L594.72,78.57 L596.71,79.53 L598.70,80.51 L600.69,81.52 L602.68,82.55 L604.67,83.61 L606.66,84.68 L608.64,85.77 L610.63,86.88 L612.62,88.03 L614.61,89.19 L616.60,90.39 L618.59,91.62 L620.58,92.89 L622.57,94.20 L624.56,95.53 L626.54,96.89 L628.53,98.27 L630.52,99.67 L632.51,101.07 L634.50,102.48 L636.49,103.88 L638.48,105.29 L640.47,106.73 L642.45,108.20 L644.44,109.74 L646.43,111.35 L648.42,113.05 L650.41,114.82 L652.40,116.65 L654.39,118.55 L656.38,120.55 L658.36,122.67 L660.35,124.91 L662.34,127.31 L664.33,129.89 L666.32,132.77 L668.31,136.03 L670.30,139.59 L672.28,143.36 L674.27,147.28 L676.26,151.24 L678.25,155.19 L680.24,159.02 L682.23,162.77 L684.22,166.51 L686.21,170.26 L688.19,174.06 L690.18,177.91 L692.17,181.86 L694.16,185.91 L696.15,190.10 L698.14,194.47 L700.13,199.01 L702.12,203.68 L704.11,208.46 L706.09,213.31 L708.08,218.21 L710.07,223.11 L712.06,227.98 L714.05,232.86 L716.04,237.79 L718.03,242.76 L720.01,247.75 L722.00,252.76 L723.99,257.78 L725.98,262.80 L727.97,267.81 L729.96,272.81 L731.95,277.81 L733.94,282.82 L735.92,287.84 L737.91,292.86" fill="none" stroke="#22e022" stroke-width="1.65" stroke-linejoin="round"/>
</g>
<path d="M453.90,39.33 L461.10,39.33 L457.50,45.53Z" fill="none" stroke="#22e022" stroke-width="1.50"/>
<path d="M469.81,41.59 L477.01,41.59 L473.41,47.79Z" fill="none" stroke="#22e022" stroke-width="1.50"/>
<path d="M485.72,44.18 L492.92,44.18 L489.32,50.38Z" fill="none" stroke="#22e022" stroke-width="1.50"/>
<path d="M501.63,47.42 L508.83,47.42 L505.23,53.62Z" fill="none" stroke="#22e022" stroke-width="1.50"/>
<path d="M517.54,50.98 L524.74,50.98 L521.14,57.18Z" fill="none" stroke="#22e022" stroke-width="1.50"/>
<path d="M533.45,54.22 L540.65,54.22 L537.05,60.42Z" fill="none" stroke="#22e022" stroke-width="1.50"/>
<path d="M549.36,58.11 L556.56,58.11 L552.96,64.31Z" fill="none" stroke="#22e022" stroke-width="1.50"/>
<path d="M565.27,63.67 L572.47,63.67 L568.87,69.87Z" fill="none" stroke="#22e022" stroke-width="1.50"/>
<path d="M581.18,71.38 L588.38,71.38 L584.78,77.58Z" fill="none" stroke="#22e022" stroke-width="1.50"/>
<path d="M597.09,79.02 L604.29,79.02 L600.69,85.22Z" fill="none" stroke="#22e022" stroke-width="1.50"/>
<path d="M613.00,87.89 L620.20,87.89 L616.60,94.09Z" fill="none" stroke="#22e022" stroke-width="1.50"/>
<path d="M628.91,98.57 L636.11,98.57 L632.51,104.77Z" fill="none" stroke="#22e022" stroke-width="1.50"/>
<path d="M644.82,110.55 L652.02,110.55 L648.42,116.75Z" fill="none" stroke="#22e022" stroke-width="1.50"/>
<path d="M660.73,127.39 L667.93,127.39 L664.33,133.59Z" fill="none" stroke="#22e022" stroke-width="1.50"/>
<path d="M676.64,156.52 L683.84,156.52 L680.24,162.72Z" fill="none" stroke="#22e022" stroke-width="1.50"/>
<path d="M692.55,187.60 L699.75,187.60 L696.15,193.80Z" fill="none" stroke="#22e022" stroke-width="1.50"/>
<path d="M708.46,225.48 L715.66,225.48 L712.06,231.68Z" fill="none" stroke="#22e022" stroke-width="1.50"/>
<path d="M724.37,265.31 L731.57,265.31 L727.97,271.50Z" fill="none" stroke="#22e022" stroke-width="1.50"/>
<g clip-path="url(#cb)">
<path d="M457.50,40.21 L459.49,40.38 L461.48,40.56 L463.47,40.74 L465.45,40.92 L467.44,41.11 L469.43,41.30 L471.42,41.50 L473.41,41.70 L475.40,41.90 L477.39,42.10 L479.38,42.30 L481.37,42.51 L483.35,42.73 L485.34,42.95 L487.33,43.19 L489.32,43.45 L491.31,43.72 L493.30,44.02 L495.29,44.34 L497.27,44.68 L499.26,45.02 L501.25,45.37 L503.24,45.71 L505.23,46.04 L507.22,46.36 L509.21,46.68 L511.20,46.99 L513.18,47.31 L515.17,47.63 L517.16,47.96 L519.15,48.29 L521.14,48.63 L523.13,48.97 L525.12,49.33 L527.11,49.69 L529.10,50.06 L531.08,50.43 L533.07,50.80 L535.06,51.17 L537.05,51.54 L539.04,51.90 L541.03,52.25 L543.02,52.61 L545.00,52.96 L546.99,53.32 L548.98,53.68 L550.97,54.06 L552.96,54.45 L554.95,54.86 L556.94,55.29 L558.93,55.72 L560.91,56.17 L562.90,56.63 L564.89,57.09 L566.88,57.55 L568.87,58.02 L570.86,58.48 L572.85,58.95 L574.84,59.42 L576.83,59.90 L578.81,60.38 L580.80,60.88 L582.79,61.38 L584.78,61.90 L586.77,62.42 L588.76,62.95 L590.75,63.48 L592.74,64.02 L594.72,64.59 L596.71,65.17 L598.70,65.78 L600.69,66.43 L602.68,67.13 L604.67,67.88 L606.66,68.68 L608.64,69.51 L610.63,70.36 L612.62,71.21 L614.61,72.07 L616.60,72.91 L618.59,73.74 L620.58,74.57 L622.57,75.41 L624.56,76.25 L626.54,77.10 L628.53,77.96 L630.52,78.82 L632.51,79.71 L634.50,80.60 L636.49,81.52 L638.48,82.45 L640.47,83.39 L642.45,84.33 L644.44,85.28 L646.43,86.22 L648.42,87.15 L650.41,88.08 L652.40,89.00 L654.39,89.92 L656.38,90.84 L658.36,91.76 L660.35,92.69 L662.34,93.64 L664.33,94.60 L666.32,95.58 L668.31,96.57 L670.30,97.57 L672.28,98.58 L674.27,99.60 L676.26,100.63 L678.25,101.66 L680.24,102.69 L682.23,103.72 L684.22,104.73 L686.21,105.75 L688.19,106.77 L690.18,107.81 L692.17,108.88 L694.16,109.97 L696.15,111.11 L698.14,112.30 L700.13,113.53 L702.12,114.81 L704.11,116.12 L706.09,117.44 L708.08,118.79 L710.07,120.13 L712.06,121.47 L714.05,122.80 L716.04,124.12 L718.03,125.45 L720.01,126.79 L722.00,128.15 L723.99,129.55 L725.98,130.99 L727.97,132.48 L729.96,134.03 L731.95,135.65 L733.94,137.31 L735.92,139.02 L737.91,140.76 L739.90,142.52 L741.89,144.30 L743.88,146.07 L745.87,147.84 L747.86,149.59 L749.85,151.35 L751.84,153.13 L753.82,154.97 L755.81,156.87 L757.80,158.86 L759.79,160.97 L761.78,163.19 L763.77,165.53 L765.76,167.98 L767.75,170.54 L769.73,173.19 L771.72,175.94 L773.71,178.77 L775.70,181.69" fill="none" stroke="#22e022" stroke-width="1.65" stroke-dasharray="3.8,1.2,1.2,1.2" stroke-dashoffset="0.0" stroke-linejoin="round"/>
</g>
<path d="M453.90,37.71 L461.10,37.71 L457.50,43.91Z" fill="none" stroke="#22e022" stroke-width="1.50"/>
<path d="M469.81,39.20 L477.01,39.20 L473.41,45.40Z" fill="none" stroke="#22e022" stroke-width="1.50"/>
<path d="M485.72,40.95 L492.92,40.95 L489.32,47.15Z" fill="none" stroke="#22e022" stroke-width="1.50"/>
<path d="M501.63,43.54 L508.83,43.54 L505.23,49.74Z" fill="none" stroke="#22e022" stroke-width="1.50"/>
<path d="M517.54,46.13 L524.74,46.13 L521.14,52.33Z" fill="none" stroke="#22e022" stroke-width="1.50"/>
<path d="M533.45,49.04 L540.65,49.04 L537.05,55.24Z" fill="none" stroke="#22e022" stroke-width="1.50"/>
<path d="M549.36,51.95 L556.56,51.95 L552.96,58.15Z" fill="none" stroke="#22e022" stroke-width="1.50"/>
<path d="M565.27,55.52 L572.47,55.52 L568.87,61.72Z" fill="none" stroke="#22e022" stroke-width="1.50"/>
<path d="M581.18,59.40 L588.38,59.40 L584.78,65.60Z" fill="none" stroke="#22e022" stroke-width="1.50"/>
<path d="M597.09,63.93 L604.29,63.93 L600.69,70.13Z" fill="none" stroke="#22e022" stroke-width="1.50"/>
<path d="M613.00,70.41 L620.20,70.41 L616.60,76.61Z" fill="none" stroke="#22e022" stroke-width="1.50"/>
<path d="M628.91,77.21 L636.11,77.21 L632.51,83.41Z" fill="none" stroke="#22e022" stroke-width="1.50"/>
<path d="M644.82,84.65 L652.02,84.65 L648.42,90.85Z" fill="none" stroke="#22e022" stroke-width="1.50"/>
<path d="M660.73,92.10 L667.93,92.10 L664.33,98.30Z" fill="none" stroke="#22e022" stroke-width="1.50"/>
<path d="M676.64,100.19 L683.84,100.19 L680.24,106.39Z" fill="none" stroke="#22e022" stroke-width="1.50"/>
<path d="M692.55,108.61 L699.75,108.61 L696.15,114.81Z" fill="none" stroke="#22e022" stroke-width="1.50"/>
<path d="M708.46,118.97 L715.66,118.97 L712.06,125.17Z" fill="none" stroke="#22e022" stroke-width="1.50"/>
<path d="M724.37,129.98 L731.57,129.98 L727.97,136.18Z" fill="none" stroke="#22e022" stroke-width="1.50"/>
<path d="M740.28,143.57 L747.48,143.57 L743.88,149.77Z" fill="none" stroke="#22e022" stroke-width="1.50"/>
<path d="M756.19,158.47 L763.39,158.47 L759.79,164.67Z" fill="none" stroke="#22e022" stroke-width="1.50"/>
<path d="M772.10,179.19 L779.30,179.19 L775.70,185.39Z" fill="none" stroke="#22e022" stroke-width="1.50"/>
<g clip-path="url(#cb)">
<path d="M457.50,38.59 L459.49,38.68 L461.48,38.77 L463.47,38.87 L465.45,38.96 L467.44,39.06 L469.43,39.16 L471.42,39.26 L473.41,39.37 L475.40,39.47 L477.39,39.58 L479.38,39.68 L481.37,39.79 L483.35,39.91 L485.34,40.02 L487.33,40.15 L489.32,40.27 L491.31,40.41 L493.30,40.55 L495.29,40.69 L497.27,40.84 L499.26,41.00 L501.25,41.16 L503.24,41.33 L505.23,41.50 L507.22,41.68 L509.21,41.87 L511.20,42.07 L513.18,42.27 L515.17,42.47 L517.16,42.69 L519.15,42.90 L521.14,43.12 L523.13,43.35 L525.12,43.58 L527.11,43.81 L529.10,44.05 L531.08,44.30 L533.07,44.55 L535.06,44.81 L537.05,45.07 L539.04,45.33 L541.03,45.59 L543.02,45.85 L545.00,46.13 L546.99,46.41 L548.98,46.70 L550.97,47.01 L552.96,47.33 L554.95,47.68 L556.94,48.05 L558.93,48.45 L560.91,48.86 L562.90,49.28 L564.89,49.71 L566.88,50.14 L568.87,50.57 L570.86,51.00 L572.85,51.43 L574.84,51.87 L576.83,52.31 L578.81,52.76 L580.80,53.21 L582.79,53.67 L584.78,54.13 L586.77,54.59 L588.76,55.06 L590.75,55.52 L592.74,56.00 L594.72,56.48 L596.71,56.98 L598.70,57.49 L600.69,58.02 L602.68,58.57 L604.67,59.14 L606.66,59.73 L608.64,60.34 L610.63,60.96 L612.62,61.59 L614.61,62.23 L616.60,62.87 L618.59,63.52 L620.58,64.18 L622.57,64.85 L624.56,65.52 L626.54,66.22 L628.53,66.92 L630.52,67.64 L632.51,68.38 L634.50,69.13 L636.49,69.89 L638.48,70.67 L640.47,71.47 L642.45,72.29 L644.44,73.12 L646.43,73.98 L648.42,74.85 L650.41,75.75 L652.40,76.69 L654.39,77.66 L656.38,78.65 L658.36,79.64 L660.35,80.64 L662.34,81.64 L664.33,82.62 L666.32,83.59 L668.31,84.54 L670.30,85.50 L672.28,86.45 L674.27,87.41 L676.26,88.39 L678.25,89.38 L680.24,90.39 L682.23,91.44 L684.22,92.53 L686.21,93.65 L688.19,94.77 L690.18,95.89 L692.17,96.99 L694.16,98.05 L696.15,99.07 L698.14,100.02 L700.13,100.93 L702.12,101.81 L704.11,102.67 L706.09,103.53 L708.08,104.41 L710.07,105.31 L712.06,106.25 L714.05,107.25 L716.04,108.27 L718.03,109.32 L720.01,110.40 L722.00,111.48 L723.99,112.57 L725.98,113.66 L727.97,114.74 L729.96,115.80 L731.95,116.86 L733.94,117.91 L735.92,118.97 L737.91,120.04 L739.90,121.13 L741.89,122.25 L743.88,123.41 L745.87,124.62 L747.86,125.89 L749.85,127.19 L751.84,128.52 L753.82,129.86 L755.81,131.19 L757.80,132.50 L759.79,133.77 L761.78,135.02 L763.77,136.26 L765.76,137.49 L767.75,138.71 L769.73,139.92 L771.72,141.12 L773.71,142.31 L775.70,143.49" fill="none" stroke="#22e022" stroke-width="1.65" stroke-dasharray="4,3.4" stroke-dashoffset="0.0" stroke-linejoin="round"/>
</g>
<path d="M453.90,36.09 L461.10,36.09 L457.50,42.29Z" fill="none" stroke="#22e022" stroke-width="1.50"/>
<path d="M469.81,36.87 L477.01,36.87 L473.41,43.07Z" fill="none" stroke="#22e022" stroke-width="1.50"/>
<path d="M485.72,37.77 L492.92,37.77 L489.32,43.97Z" fill="none" stroke="#22e022" stroke-width="1.50"/>
<path d="M501.63,39.00 L508.83,39.00 L505.23,45.20Z" fill="none" stroke="#22e022" stroke-width="1.50"/>
<path d="M517.54,40.62 L524.74,40.62 L521.14,46.82Z" fill="none" stroke="#22e022" stroke-width="1.50"/>
<path d="M533.45,42.57 L540.65,42.57 L537.05,48.77Z" fill="none" stroke="#22e022" stroke-width="1.50"/>
<path d="M549.36,44.83 L556.56,44.83 L552.96,51.03Z" fill="none" stroke="#22e022" stroke-width="1.50"/>
<path d="M565.27,48.07 L572.47,48.07 L568.87,54.27Z" fill="none" stroke="#22e022" stroke-width="1.50"/>
<path d="M581.18,51.63 L588.38,51.63 L584.78,57.83Z" fill="none" stroke="#22e022" stroke-width="1.50"/>
<path d="M597.09,55.52 L604.29,55.52 L600.69,61.72Z" fill="none" stroke="#22e022" stroke-width="1.50"/>
<path d="M613.00,60.37 L620.20,60.37 L616.60,66.57Z" fill="none" stroke="#22e022" stroke-width="1.50"/>
<path d="M628.91,65.88 L636.11,65.88 L632.51,72.08Z" fill="none" stroke="#22e022" stroke-width="1.50"/>
<path d="M644.82,72.35 L652.02,72.35 L648.42,78.55Z" fill="none" stroke="#22e022" stroke-width="1.50"/>
<path d="M660.73,80.12 L667.93,80.12 L664.33,86.32Z" fill="none" stroke="#22e022" stroke-width="1.50"/>
<path d="M676.64,87.89 L683.84,87.89 L680.24,94.09Z" fill="none" stroke="#22e022" stroke-width="1.50"/>
<path d="M692.55,96.57 L699.75,96.57 L696.15,102.77Z" fill="none" stroke="#22e022" stroke-width="1.50"/>
<path d="M708.46,103.75 L715.66,103.75 L712.06,109.95Z" fill="none" stroke="#22e022" stroke-width="1.50"/>
<path d="M724.37,112.24 L731.57,112.24 L727.97,118.44Z" fill="none" stroke="#22e022" stroke-width="1.50"/>
<path d="M740.28,120.91 L747.48,120.91 L743.88,127.11Z" fill="none" stroke="#22e022" stroke-width="1.50"/>
<path d="M756.19,131.27 L763.39,131.27 L759.79,137.47Z" fill="none" stroke="#22e022" stroke-width="1.50"/>
<path d="M772.10,140.99 L779.30,140.99 L775.70,147.19Z" fill="none" stroke="#22e022" stroke-width="1.50"/>
<g clip-path="url(#cb)">
<path d="M457.50,41.18 L459.49,41.41 L461.48,41.64 L463.47,41.87 L465.45,42.11 L467.44,42.36 L469.43,42.61 L471.42,42.86 L473.41,43.12 L475.40,43.39 L477.39,43.66 L479.38,43.93 L481.37,44.21 L483.35,44.50 L485.34,44.79 L487.33,45.09 L489.32,45.39 L491.31,45.69 L493.30,46.00 L495.29,46.32 L497.27,46.64 L499.26,46.97 L501.25,47.30 L503.24,47.64 L505.23,47.98 L507.22,48.32 L509.21,48.68 L511.20,49.03 L513.18,49.40 L515.17,49.76 L517.16,50.13 L519.15,50.51 L521.14,50.89 L523.13,51.28 L525.12,51.66 L527.11,52.06 L529.10,52.45 L531.08,52.86 L533.07,53.27 L535.06,53.69 L537.05,54.13 L539.04,54.57 L541.03,55.02 L543.02,55.47 L545.00,55.94 L546.99,56.43 L548.98,56.93 L550.97,57.46 L552.96,58.02 L554.95,58.60 L556.94,59.23 L558.93,59.88 L560.91,60.56 L562.90,61.28 L564.89,62.02 L566.88,62.79 L568.87,63.58 L570.86,64.43 L572.85,65.34 L574.84,66.29 L576.83,67.29 L578.81,68.30 L580.80,69.31 L582.79,70.31 L584.78,71.29 L586.77,72.24 L588.76,73.18 L590.75,74.11 L592.74,75.04 L594.72,75.98 L596.71,76.94 L598.70,77.92 L600.69,78.93 L602.68,79.96 L604.67,81.02 L606.66,82.09 L608.64,83.18 L610.63,84.29 L612.62,85.44 L614.61,86.60 L616.60,87.80 L618.59,89.03 L620.58,90.30 L622.57,91.61 L624.56,92.94 L626.54,94.30 L628.53,95.68 L630.52,97.08 L632.51,98.48 L634.50,99.89 L636.49,101.29 L638.48,102.70 L640.47,104.14 L642.45,105.62 L644.44,107.16 L646.43,108.77 L648.42,110.46 L650.41,112.25 L652.40,114.13 L654.39,116.10 L656.38,118.15 L658.36,120.28 L660.35,122.48 L662.34,124.76 L664.33,127.10 L666.32,129.55 L668.31,132.11 L670.30,134.78 L672.28,137.55 L674.27,140.40 L676.26,143.31 L678.25,146.29 L680.24,149.31 L682.23,152.37 L684.22,155.49 L686.21,158.67 L688.19,161.94 L690.18,165.31 L692.17,168.80 L694.16,172.42 L696.15,176.18 L698.14,180.17 L700.13,184.39 L702.12,188.82 L704.11,193.39 L706.09,198.05 L708.08,202.76 L710.07,207.47 L712.06,212.12 L714.05,216.76 L716.04,221.43 L718.03,226.15 L720.01,230.89 L722.00,235.66 L723.99,240.44 L725.98,245.22 L727.97,250.00 L729.96,254.78 L731.95,259.57 L733.94,264.37 L735.92,269.18 L737.91,274.00 L739.90,278.83 L741.89,283.67 L743.88,288.53" fill="none" stroke="#111111" stroke-width="1.65" stroke-linejoin="round"/>
</g>
<rect x="455.15" y="38.83" width="4.7" height="4.7" fill="none" stroke="#111111" stroke-width="1.50"/>
<rect x="471.06" y="40.77" width="4.7" height="4.7" fill="none" stroke="#111111" stroke-width="1.50"/>
<rect x="486.97" y="43.04" width="4.7" height="4.7" fill="none" stroke="#111111" stroke-width="1.50"/>
<rect x="502.88" y="45.63" width="4.7" height="4.7" fill="none" stroke="#111111" stroke-width="1.50"/>
<rect x="518.79" y="48.54" width="4.7" height="4.7" fill="none" stroke="#111111" stroke-width="1.50"/>
<rect x="534.70" y="51.78" width="4.7" height="4.7" fill="none" stroke="#111111" stroke-width="1.50"/>
<rect x="550.61" y="55.66" width="4.7" height="4.7" fill="none" stroke="#111111" stroke-width="1.50"/>
<rect x="566.52" y="61.23" width="4.7" height="4.7" fill="none" stroke="#111111" stroke-width="1.50"/>
<rect x="582.43" y="68.94" width="4.7" height="4.7" fill="none" stroke="#111111" stroke-width="1.50"/>
<rect x="598.34" y="76.58" width="4.7" height="4.7" fill="none" stroke="#111111" stroke-width="1.50"/>
<rect x="614.25" y="85.45" width="4.7" height="4.7" fill="none" stroke="#111111" stroke-width="1.50"/>
<rect x="630.16" y="96.13" width="4.7" height="4.7" fill="none" stroke="#111111" stroke-width="1.50"/>
<rect x="646.07" y="108.11" width="4.7" height="4.7" fill="none" stroke="#111111" stroke-width="1.50"/>
<rect x="661.98" y="124.75" width="4.7" height="4.7" fill="none" stroke="#111111" stroke-width="1.50"/>
<rect x="677.89" y="146.96" width="4.7" height="4.7" fill="none" stroke="#111111" stroke-width="1.50"/>
<rect x="693.80" y="173.83" width="4.7" height="4.7" fill="none" stroke="#111111" stroke-width="1.50"/>
<rect x="709.71" y="209.77" width="4.7" height="4.7" fill="none" stroke="#111111" stroke-width="1.50"/>
<rect x="725.62" y="247.65" width="4.7" height="4.7" fill="none" stroke="#111111" stroke-width="1.50"/>
<g clip-path="url(#cb)">
<path d="M457.50,39.56 L459.49,39.69 L461.48,39.83 L463.47,39.97 L465.45,40.11 L467.44,40.26 L469.43,40.41 L471.42,40.57 L473.41,40.73 L475.40,40.89 L477.39,41.05 L479.38,41.22 L481.37,41.39 L483.35,41.57 L485.34,41.76 L487.33,41.95 L489.32,42.15 L491.31,42.36 L493.30,42.59 L495.29,42.82 L497.27,43.07 L499.26,43.32 L501.25,43.57 L503.24,43.83 L505.23,44.09 L507.22,44.36 L509.21,44.63 L511.20,44.90 L513.18,45.19 L515.17,45.47 L517.16,45.76 L519.15,46.06 L521.14,46.36 L523.13,46.67 L525.12,46.98 L527.11,47.29 L529.10,47.61 L531.08,47.94 L533.07,48.27 L535.06,48.61 L537.05,48.95 L539.04,49.29 L541.03,49.64 L543.02,49.99 L545.00,50.35 L546.99,50.71 L548.98,51.09 L550.97,51.47 L552.96,51.86 L554.95,52.27 L556.94,52.70 L558.93,53.15 L560.91,53.60 L562.90,54.06 L564.89,54.52 L566.88,54.97 L568.87,55.42 L570.86,55.86 L572.85,56.29 L574.84,56.72 L576.83,57.15 L578.81,57.58 L580.80,58.03 L582.79,58.50 L584.78,58.99 L586.77,59.49 L588.76,60.01 L590.75,60.54 L592.74,61.09 L594.72,61.67 L596.71,62.27 L598.70,62.91 L600.69,63.58 L602.68,64.32 L604.67,65.13 L606.66,66.00 L608.64,66.91 L610.63,67.84 L612.62,68.77 L614.61,69.69 L616.60,70.58 L618.59,71.43 L620.58,72.27 L622.57,73.10 L624.56,73.93 L626.54,74.77 L628.53,75.63 L630.52,76.52 L632.51,77.44 L634.50,78.42 L636.49,79.45 L638.48,80.52 L640.47,81.61 L642.45,82.70 L644.44,83.79 L646.43,84.84 L648.42,85.86 L650.41,86.83 L652.40,87.76 L654.39,88.68 L656.38,89.58 L658.36,90.48 L660.35,91.40 L662.34,92.34 L664.33,93.30 L666.32,94.30 L668.31,95.33 L670.30,96.37 L672.28,97.43 L674.27,98.50 L676.26,99.57 L678.25,100.65 L680.24,101.72 L682.23,102.79 L684.22,103.86 L686.21,104.92 L688.19,106.00 L690.18,107.08 L692.17,108.18 L694.16,109.31 L696.15,110.46 L698.14,111.64 L700.13,112.84 L702.12,114.05 L704.11,115.29 L706.09,116.56 L708.08,117.84 L710.07,119.16 L712.06,120.50 L714.05,121.85 L716.04,123.22 L718.03,124.60 L720.01,126.02 L722.00,127.49 L723.99,129.01 L725.98,130.61 L727.97,132.28 L729.96,134.07 L731.95,135.99 L733.94,138.01 L735.92,140.10 L737.91,142.26 L739.90,144.45 L741.89,146.66 L743.88,148.86 L745.87,151.08 L747.86,153.37 L749.85,155.69 L751.84,158.05 L753.82,160.41 L755.81,162.78 L757.80,165.13 L759.79,167.44 L761.78,169.73 L763.77,172.02 L765.76,174.29 L767.75,176.56 L769.73,178.83 L771.72,181.08 L773.71,183.33 L775.70,185.57" fill="none" stroke="#111111" stroke-width="1.65" stroke-dasharray="3.8,1.2,1.2,1.2" stroke-dashoffset="2.6" stroke-linejoin="round"/>
</g>
<rect x="455.15" y="37.21" width="4.7" height="4.7" fill="none" stroke="#111111" stroke-width="1.50"/>
<rect x="471.06" y="38.38" width="4.7" height="4.7" fill="none" stroke="#111111" stroke-width="1.50"/>
<rect x="486.97" y="39.80" width="4.7" height="4.7" fill="none" stroke="#111111" stroke-width="1.50"/>
<rect x="502.88" y="41.74" width="4.7" height="4.7" fill="none" stroke="#111111" stroke-width="1.50"/>
<rect x="518.79" y="44.01" width="4.7" height="4.7" fill="none" stroke="#111111" stroke-width="1.50"/>
<rect x="534.70" y="46.60" width="4.7" height="4.7" fill="none" stroke="#111111" stroke-width="1.50"/>
<rect x="550.61" y="49.51" width="4.7" height="4.7" fill="none" stroke="#111111" stroke-width="1.50"/>
<rect x="566.52" y="53.07" width="4.7" height="4.7" fill="none" stroke="#111111" stroke-width="1.50"/>
<rect x="582.43" y="56.64" width="4.7" height="4.7" fill="none" stroke="#111111" stroke-width="1.50"/>
<rect x="598.34" y="61.23" width="4.7" height="4.7" fill="none" stroke="#111111" stroke-width="1.50"/>
<rect x="614.25" y="68.23" width="4.7" height="4.7" fill="none" stroke="#111111" stroke-width="1.50"/>
<rect x="630.16" y="75.09" width="4.7" height="4.7" fill="none" stroke="#111111" stroke-width="1.50"/>
<rect x="646.07" y="83.51" width="4.7" height="4.7" fill="none" stroke="#111111" stroke-width="1.50"/>
<rect x="661.98" y="90.95" width="4.7" height="4.7" fill="none" stroke="#111111" stroke-width="1.50"/>
<rect x="677.89" y="99.37" width="4.7" height="4.7" fill="none" stroke="#111111" stroke-width="1.50"/>
<rect x="693.80" y="108.11" width="4.7" height="4.7" fill="none" stroke="#111111" stroke-width="1.50"/>
<rect x="709.71" y="118.15" width="4.7" height="4.7" fill="none" stroke="#111111" stroke-width="1.50"/>
<rect x="725.62" y="129.93" width="4.7" height="4.7" fill="none" stroke="#111111" stroke-width="1.50"/>
<rect x="741.53" y="146.51" width="4.7" height="4.7" fill="none" stroke="#111111" stroke-width="1.50"/>
<rect x="757.44" y="165.09" width="4.7" height="4.7" fill="none" stroke="#111111" stroke-width="1.50"/>
<rect x="773.35" y="183.22" width="4.7" height="4.7" fill="none" stroke="#111111" stroke-width="1.50"/>
<g clip-path="url(#cb)">
<path d="M457.50,37.94 L459.49,38.02 L461.48,38.09 L463.47,38.17 L465.45,38.25 L467.44,38.33 L469.43,38.42 L471.42,38.50 L473.41,38.59 L475.40,38.68 L477.39,38.77 L479.38,38.86 L481.37,38.96 L483.35,39.05 L485.34,39.15 L487.33,39.26 L489.32,39.37 L491.31,39.48 L493.30,39.60 L495.29,39.72 L497.27,39.85 L499.26,39.98 L501.25,40.12 L503.24,40.26 L505.23,40.40 L507.22,40.55 L509.21,40.71 L511.20,40.88 L513.18,41.05 L515.17,41.22 L517.16,41.38 L519.15,41.54 L521.14,41.70 L523.13,41.84 L525.12,41.98 L527.11,42.11 L529.10,42.23 L531.08,42.36 L533.07,42.50 L535.06,42.64 L537.05,42.80 L539.04,42.97 L541.03,43.14 L543.02,43.32 L545.00,43.51 L546.99,43.72 L548.98,43.93 L550.97,44.17 L552.96,44.42 L554.95,44.70 L556.94,45.04 L558.93,45.40 L560.91,45.79 L562.90,46.19 L564.89,46.59 L566.88,46.97 L568.87,47.33 L570.86,47.66 L572.85,47.97 L574.84,48.28 L576.83,48.58 L578.81,48.88 L580.80,49.21 L582.79,49.55 L584.78,49.92 L586.77,50.34 L588.76,50.79 L590.75,51.27 L592.74,51.78 L594.72,52.30 L596.71,52.83 L598.70,53.36 L600.69,53.87 L602.68,54.37 L604.67,54.87 L606.66,55.36 L608.64,55.86 L610.63,56.37 L612.62,56.90 L614.61,57.44 L616.60,58.02 L618.59,58.63 L620.58,59.28 L622.57,59.97 L624.56,60.67 L626.54,61.37 L628.53,62.07 L630.52,62.75 L632.51,63.39 L634.50,63.99 L636.49,64.55 L638.48,65.10 L640.47,65.64 L642.45,66.19 L644.44,66.75 L646.43,67.35 L648.42,67.99 L650.41,68.68 L652.40,69.42 L654.39,70.19 L656.38,71.00 L658.36,71.82 L660.35,72.66 L662.34,73.50 L664.33,74.33 L666.32,75.16 L668.31,76.00 L670.30,76.85 L672.28,77.70 L674.27,78.57 L676.26,79.45 L678.25,80.35 L680.24,81.26 L682.23,82.19 L684.22,83.15 L686.21,84.12 L688.19,85.11 L690.18,86.10 L692.17,87.10 L694.16,88.10 L696.15,89.09 L698.14,90.08 L700.13,91.07 L702.12,92.05 L704.11,93.04 L706.09,94.03 L708.08,95.04 L710.07,96.07 L712.06,97.12 L714.05,98.20 L716.04,99.30 L718.03,100.43 L720.01,101.56 L722.00,102.71 L723.99,103.87 L725.98,105.03 L727.97,106.19 L729.96,107.35 L731.95,108.52 L733.94,109.70 L735.92,110.88 L737.91,112.07 L739.90,113.26 L741.89,114.45 L743.88,115.64 L745.87,116.82 L747.86,117.98 L749.85,119.14 L751.84,120.30 L753.82,121.48 L755.81,122.69 L757.80,123.93 L759.79,125.23 L761.78,126.57 L763.77,127.95 L765.76,129.37 L767.75,130.83 L769.73,132.32 L771.72,133.85 L773.71,135.41 L775.70,137.01" fill="none" stroke="#111111" stroke-width="1.65" stroke-dasharray="4,3.4" stroke-dashoffset="2.6" stroke-linejoin="round"/>
</g>
<rect x="455.15" y="35.59" width="4.7" height="4.7" fill="none" stroke="#111111" stroke-width="1.50"/>
<rect x="471.06" y="36.24" width="4.7" height="4.7" fill="none" stroke="#111111" stroke-width="1.50"/>
<rect x="486.97" y="37.02" width="4.7" height="4.7" fill="none" stroke="#111111" stroke-width="1.50"/>
<rect x="502.88" y="38.05" width="4.7" height="4.7" fill="none" stroke="#111111" stroke-width="1.50"/>
<rect x="518.79" y="39.35" width="4.7" height="4.7" fill="none" stroke="#111111" stroke-width="1.50"/>
<rect x="534.70" y="40.45" width="4.7" height="4.7" fill="none" stroke="#111111" stroke-width="1.50"/>
<rect x="550.61" y="42.07" width="4.7" height="4.7" fill="none" stroke="#111111" stroke-width="1.50"/>
<rect x="566.52" y="44.98" width="4.7" height="4.7" fill="none" stroke="#111111" stroke-width="1.50"/>
<rect x="582.43" y="47.57" width="4.7" height="4.7" fill="none" stroke="#111111" stroke-width="1.50"/>
<rect x="598.34" y="51.52" width="4.7" height="4.7" fill="none" stroke="#111111" stroke-width="1.50"/>
<rect x="614.25" y="55.66" width="4.7" height="4.7" fill="none" stroke="#111111" stroke-width="1.50"/>
<rect x="630.16" y="61.04" width="4.7" height="4.7" fill="none" stroke="#111111" stroke-width="1.50"/>
<rect x="646.07" y="65.64" width="4.7" height="4.7" fill="none" stroke="#111111" stroke-width="1.50"/>
<rect x="661.98" y="71.98" width="4.7" height="4.7" fill="none" stroke="#111111" stroke-width="1.50"/>
<rect x="677.89" y="78.91" width="4.7" height="4.7" fill="none" stroke="#111111" stroke-width="1.50"/>
<rect x="693.80" y="86.75" width="4.7" height="4.7" fill="none" stroke="#111111" stroke-width="1.50"/>
<rect x="709.71" y="94.77" width="4.7" height="4.7" fill="none" stroke="#111111" stroke-width="1.50"/>
<rect x="725.62" y="103.84" width="4.7" height="4.7" fill="none" stroke="#111111" stroke-width="1.50"/>
<rect x="741.53" y="113.29" width="4.7" height="4.7" fill="none" stroke="#111111" stroke-width="1.50"/>
<rect x="757.44" y="122.88" width="4.7" height="4.7" fill="none" stroke="#111111" stroke-width="1.50"/>
<rect x="773.35" y="134.66" width="4.7" height="4.7" fill="none" stroke="#111111" stroke-width="1.50"/>
<rect x="64.40" y="141.20" width="125.00" height="113.90" fill="#fff" stroke="#333" stroke-width="1"/>
<line x1="66.6" y1="150.10" x2="86.4" y2="150.10" stroke="#111111" stroke-width="1.3"/>
<line x1="66.6" y1="166.30" x2="86.4" y2="166.30" stroke="#111111" stroke-width="1.3" stroke-dasharray="3.8,1.2,1.2,1.2"/>
<line x1="66.6" y1="182.50" x2="86.4" y2="182.50" stroke="#111111" stroke-width="1.3" stroke-dasharray="4,3.4"/>
<line x1="66.6" y1="198.50" x2="86.4" y2="198.50" stroke="#22e022" stroke-width="1.3"/>
<path d="M72.90,196.00 L80.10,196.00 L76.50,202.20Z" fill="none" stroke="#22e022" stroke-width="1.50"/>
<line x1="66.6" y1="214.40" x2="86.4" y2="214.40" stroke="#111111" stroke-width="1.3"/>
<rect x="74.15" y="212.05" width="4.7" height="4.7" fill="none" stroke="#111111" stroke-width="1.50"/>
<line x1="66.6" y1="230.50" x2="86.4" y2="230.50" stroke="#1c14c4" stroke-width="1.3"/>
<path d="M73.10,230.50 H79.90 M76.50,227.10 V233.90" stroke="#1c14c4" stroke-width="1.50"/>
<line x1="66.6" y1="246.60" x2="86.4" y2="246.60" stroke="#e41a1c" stroke-width="1.3"/>
<circle cx="76.50" cy="246.60" r="3.0" fill="none" stroke="#e41a1c" stroke-width="1.70"/>
<text x="97.65" y="157.90" font-family="Liberation Serif" font-size="13.00" font-style="italic">M</text><text x="109.45" y="157.90" font-family="Liberation Serif" font-size="13.00">=</text><text x="118.43" y="157.90" font-family="Liberation Serif" font-size="13.00">2</text>
<text x="97.65" y="174.10" font-family="Liberation Serif" font-size="13.00" font-style="italic">M</text><text x="109.45" y="174.10" font-family="Liberation Serif" font-size="13.00">=</text><text x="118.43" y="174.10" font-family="Liberation Serif" font-size="13.00">4</text>
<text x="97.65" y="190.10" font-family="Liberation Serif" font-size="13.00" font-style="italic">M</text><text x="109.45" y="190.10" font-family="Liberation Serif" font-size="13.00">=</text><text x="118.43" y="190.10" font-family="Liberation Serif" font-size="13.00">8</text>
<text x="97.65" y="206.30" font-family="Liberation Serif" font-size="13.00" font-style="italic">M</text><text x="108.30" y="210.30" font-family="Liberation Serif" font-size="9.50" font-style="italic">D</text><text x="115.65" y="206.30" font-family="Liberation Serif" font-size="13.00">=</text><text x="124.13" y="206.30" font-family="Liberation Serif" font-size="13.00">2,</text><text x="139.00" y="206.30" font-family="Liberation Serif" font-size="13.00" font-style="italic">&#946;</text><text x="144.15" y="210.30" font-family="Liberation Serif" font-size="9.50" font-style="italic">b</text><text x="150.75" y="206.30" font-family="Liberation Serif" font-size="13.00">=</text><text x="159.95" y="206.30" font-family="Liberation Serif" font-size="13.00">5&#176;</text>
<text x="97.65" y="220.70" font-family="Liberation Serif" font-size="13.00" font-style="italic">M</text><text x="108.30" y="224.70" font-family="Liberation Serif" font-size="9.50" font-style="italic">D</text><text x="115.65" y="220.70" font-family="Liberation Serif" font-size="13.00">=</text><text x="124.13" y="220.70" font-family="Liberation Serif" font-size="13.00">2,</text><text x="139.00" y="220.70" font-family="Liberation Serif" font-size="13.00" font-style="italic">&#946;</text><text x="144.15" y="224.70" font-family="Liberation Serif" font-size="9.50" font-style="italic">b</text><text x="150.75" y="220.70" font-family="Liberation Serif" font-size="13.00">=</text><text x="159.56" y="220.70" font-family="Liberation Serif" font-size="13.00">15&#176;</text>
<text x="97.65" y="237.00" font-family="Liberation Serif" font-size="13.00" font-style="italic">M</text><text x="108.30" y="241.00" font-family="Liberation Serif" font-size="9.50" font-style="italic">D</text><text x="115.65" y="237.00" font-family="Liberation Serif" font-size="13.00">=</text><text x="124.13" y="237.00" font-family="Liberation Serif" font-size="13.00">2,</text><text x="139.00" y="237.00" font-family="Liberation Serif" font-size="13.00" font-style="italic">&#946;</text><text x="144.15" y="241.00" font-family="Liberation Serif" font-size="9.50" font-style="italic">b</text><text x="150.75" y="237.00" font-family="Liberation Serif" font-size="13.00">=</text><text x="159.56" y="237.00" font-family="Liberation Serif" font-size="13.00">30&#176;</text>
<text x="97.65" y="252.80" font-family="Liberation Serif" font-size="13.00" font-style="italic">M</text><text x="108.30" y="256.80" font-family="Liberation Serif" font-size="9.50" font-style="italic">D</text><text x="115.65" y="252.80" font-family="Liberation Serif" font-size="13.00">=</text><text x="124.13" y="252.80" font-family="Liberation Serif" font-size="13.00">8,</text><text x="139.00" y="252.80" font-family="Liberation Serif" font-size="13.00" font-style="italic">&#946;</text><text x="144.15" y="256.80" font-family="Liberation Serif" font-size="9.50" font-style="italic">b</text><text x="150.75" y="252.80" font-family="Liberation Serif" font-size="13.00">=</text><text x="159.56" y="252.80" font-family="Liberation Serif" font-size="13.00">15&#176;</text>
<rect x="460.50" y="143.50" width="120.00" height="116.70" fill="#fff" stroke="#333" stroke-width="1"/>
<line x1="462.4" y1="152.90" x2="482.4" y2="152.90" stroke="#111111" stroke-width="1.3"/>
<line x1="462.4" y1="169.17" x2="482.4" y2="169.17" stroke="#111111" stroke-width="1.3" stroke-dasharray="3.8,1.2,1.2,1.2"/>
<line x1="462.4" y1="185.44" x2="482.4" y2="185.44" stroke="#111111" stroke-width="1.3" stroke-dasharray="4,3.4"/>
<line x1="462.4" y1="201.71" x2="482.4" y2="201.71" stroke="#e41a1c" stroke-width="1.3"/>
<circle cx="472.30" cy="201.71" r="3.0" fill="none" stroke="#e41a1c" stroke-width="1.70"/>
<line x1="462.4" y1="217.98" x2="482.4" y2="217.98" stroke="#1c14c4" stroke-width="1.3"/>
<path d="M468.90,217.98 H475.70 M472.30,214.58 V221.38" stroke="#1c14c4" stroke-width="1.50"/>
<line x1="462.4" y1="234.25" x2="482.4" y2="234.25" stroke="#22e022" stroke-width="1.3"/>
<path d="M468.70,231.75 L475.90,231.75 L472.30,237.95Z" fill="none" stroke="#22e022" stroke-width="1.50"/>
<line x1="462.4" y1="250.52" x2="482.4" y2="250.52" stroke="#111111" stroke-width="1.3"/>
<rect x="469.95" y="248.17" width="4.7" height="4.7" fill="none" stroke="#111111" stroke-width="1.50"/>
<text x="490.85" y="156.80" font-family="Liberation Serif" font-size="13.00" font-style="italic">M</text><text x="502.65" y="156.80" font-family="Liberation Serif" font-size="13.00">=</text><text x="511.63" y="156.80" font-family="Liberation Serif" font-size="13.00">2</text>
<text x="490.85" y="173.07" font-family="Liberation Serif" font-size="13.00" font-style="italic">M</text><text x="502.65" y="173.07" font-family="Liberation Serif" font-size="13.00">=</text><text x="511.63" y="173.07" font-family="Liberation Serif" font-size="13.00">4</text>
<text x="490.85" y="189.34" font-family="Liberation Serif" font-size="13.00" font-style="italic">M</text><text x="502.65" y="189.34" font-family="Liberation Serif" font-size="13.00">=</text><text x="511.63" y="189.34" font-family="Liberation Serif" font-size="13.00">8</text>
<text x="490.85" y="205.61" font-family="Liberation Serif" font-size="13.00" font-style="italic">N</text><text x="498.30" y="209.61" font-family="Liberation Serif" font-size="9.50" font-style="italic">t</text><text x="502.75" y="205.61" font-family="Liberation Serif" font-size="13.00">=</text><text x="511.13" y="205.61" font-family="Liberation Serif" font-size="13.00">2,</text><text x="525.50" y="205.61" font-family="Liberation Serif" font-size="13.00" font-style="italic">&#946;</text><text x="531.35" y="209.61" font-family="Liberation Serif" font-size="9.50" font-style="italic">b</text><text x="537.95" y="205.61" font-family="Liberation Serif" font-size="13.00">=</text><text x="546.66" y="205.61" font-family="Liberation Serif" font-size="13.00">15&#176;</text>
<text x="490.85" y="221.88" font-family="Liberation Serif" font-size="13.00" font-style="italic">N</text><text x="498.30" y="225.88" font-family="Liberation Serif" font-size="9.50" font-style="italic">t</text><text x="502.75" y="221.88" font-family="Liberation Serif" font-size="13.00">=</text><text x="511.13" y="221.88" font-family="Liberation Serif" font-size="13.00">4,</text><text x="525.50" y="221.88" font-family="Liberation Serif" font-size="13.00" font-style="italic">&#946;</text><text x="531.35" y="225.88" font-family="Liberation Serif" font-size="9.50" font-style="italic">b</text><text x="537.95" y="221.88" font-family="Liberation Serif" font-size="13.00">=</text><text x="547.05" y="221.88" font-family="Liberation Serif" font-size="13.00">5&#176;</text>
<text x="490.85" y="238.15" font-family="Liberation Serif" font-size="13.00" font-style="italic">N</text><text x="498.30" y="242.15" font-family="Liberation Serif" font-size="9.50" font-style="italic">t</text><text x="502.75" y="238.15" font-family="Liberation Serif" font-size="13.00">=</text><text x="511.13" y="238.15" font-family="Liberation Serif" font-size="13.00">4,</text><text x="525.50" y="238.15" font-family="Liberation Serif" font-size="13.00" font-style="italic">&#946;</text><text x="531.35" y="242.15" font-family="Liberation Serif" font-size="9.50" font-style="italic">b</text><text x="537.95" y="238.15" font-family="Liberation Serif" font-size="13.00">=</text><text x="546.66" y="238.15" font-family="Liberation Serif" font-size="13.00">15&#176;</text>
<text x="490.85" y="254.42" font-family="Liberation Serif" font-size="13.00" font-style="italic">N</text><text x="498.30" y="258.42" font-family="Liberation Serif" font-size="9.50" font-style="italic">t</text><text x="502.75" y="254.42" font-family="Liberation Serif" font-size="13.00">=</text><text x="511.13" y="254.42" font-family="Liberation Serif" font-size="13.00">4,</text><text x="525.50" y="254.42" font-family="Liberation Serif" font-size="13.00" font-style="italic">&#946;</text><text x="531.35" y="258.42" font-family="Liberation Serif" font-size="9.50" font-style="italic">b</text><text x="537.95" y="254.42" font-family="Liberation Serif" font-size="13.00">=</text><text x="546.66" y="254.42" font-family="Liberation Serif" font-size="13.00">30&#176;</text>
<text x="59.85" y="286.70" font-family="Liberation Serif" font-size="19" text-anchor="middle">0</text>
<text x="138.30" y="286.70" font-family="Liberation Serif" font-size="19" text-anchor="middle">10</text>
<text x="216.20" y="286.70" font-family="Liberation Serif" font-size="19" text-anchor="middle">20</text>
<text x="294.20" y="286.70" font-family="Liberation Serif" font-size="19" text-anchor="middle">30</text>
<text x="372.40" y="286.70" font-family="Liberation Serif" font-size="19" text-anchor="middle">40</text>
<text x="46.30" y="22.60" font-family="Liberation Serif" font-size="19">1</text>
<text x="23.30" y="85.70" font-family="Liberation Serif" font-size="19">10</text>
<text x="41.30" y="78.55" font-family="Liberation Serif" font-size="13.5">&#8722;1</text>
<text x="23.30" y="149.15" font-family="Liberation Serif" font-size="19">10</text>
<text x="41.30" y="142.00" font-family="Liberation Serif" font-size="13.5">&#8722;2</text>
<text x="23.30" y="212.60" font-family="Liberation Serif" font-size="19">10</text>
<text x="41.30" y="205.45" font-family="Liberation Serif" font-size="13.5">&#8722;3</text>
<text x="23.30" y="276.05" font-family="Liberation Serif" font-size="19">10</text>
<text x="41.30" y="268.90" font-family="Liberation Serif" font-size="13.5">&#8722;4</text>
<text x="457.20" y="286.60" font-family="Liberation Serif" font-size="19" text-anchor="middle">0</text>
<text x="536.40" y="286.60" font-family="Liberation Serif" font-size="19" text-anchor="middle">10</text>
<text x="614.10" y="286.60" font-family="Liberation Serif" font-size="19" text-anchor="middle">20</text>
<text x="692.20" y="286.60" font-family="Liberation Serif" font-size="19" text-anchor="middle">30</text>
<text x="770.50" y="286.60" font-family="Liberation Serif" font-size="19" text-anchor="middle">40</text>
<text x="444.30" y="15.90" font-family="Liberation Serif" font-size="19">1</text>
<text x="421.30" y="81.70" font-family="Liberation Serif" font-size="19">10</text>
<text x="439.30" y="74.55" font-family="Liberation Serif" font-size="13.5">&#8722;1</text>
<text x="421.30" y="146.45" font-family="Liberation Serif" font-size="19">10</text>
<text x="439.30" y="139.30" font-family="Liberation Serif" font-size="13.5">&#8722;2</text>
<text x="421.30" y="211.20" font-family="Liberation Serif" font-size="19">10</text>
<text x="439.30" y="204.05" font-family="Liberation Serif" font-size="13.5">&#8722;3</text>
<text x="421.30" y="275.95" font-family="Liberation Serif" font-size="19">10</text>
<text x="439.30" y="268.80" font-family="Liberation Serif" font-size="13.5">&#8722;4</text>
<text x="216.8" y="308.3" font-family="Liberation Serif" font-size="19" text-anchor="middle">SNR (dB)</text>
<text x="614.5" y="308.3" font-family="Liberation Serif" font-size="19" text-anchor="middle">SNR (dB)</text>
<text transform="translate(15.5,143.1) rotate(-90)" font-family="Liberation Serif" font-size="18.5" text-anchor="middle">BER</text>
<text transform="translate(414.2,142.3) rotate(-90)" font-family="Liberation Serif" font-size="18.5" text-anchor="middle">BER</text>
<text x="0" y="15.6" font-family="Liberation Serif" font-size="18">(</text><text x="6.3" y="15.6" font-family="Liberation Serif" font-size="18.5" font-style="italic">a</text><text x="15.8" y="15.6" font-family="Liberation Serif" font-size="18">)</text>
<text x="397.6" y="15.2" font-family="Liberation Serif" font-size="18">(</text><text x="403.7" y="15.2" font-family="Liberation Serif" font-size="18" font-style="italic">b</text><text x="413.4" y="15.2" font-family="Liberation Serif" font-size="18">)</text>
</svg>
</body></html>
